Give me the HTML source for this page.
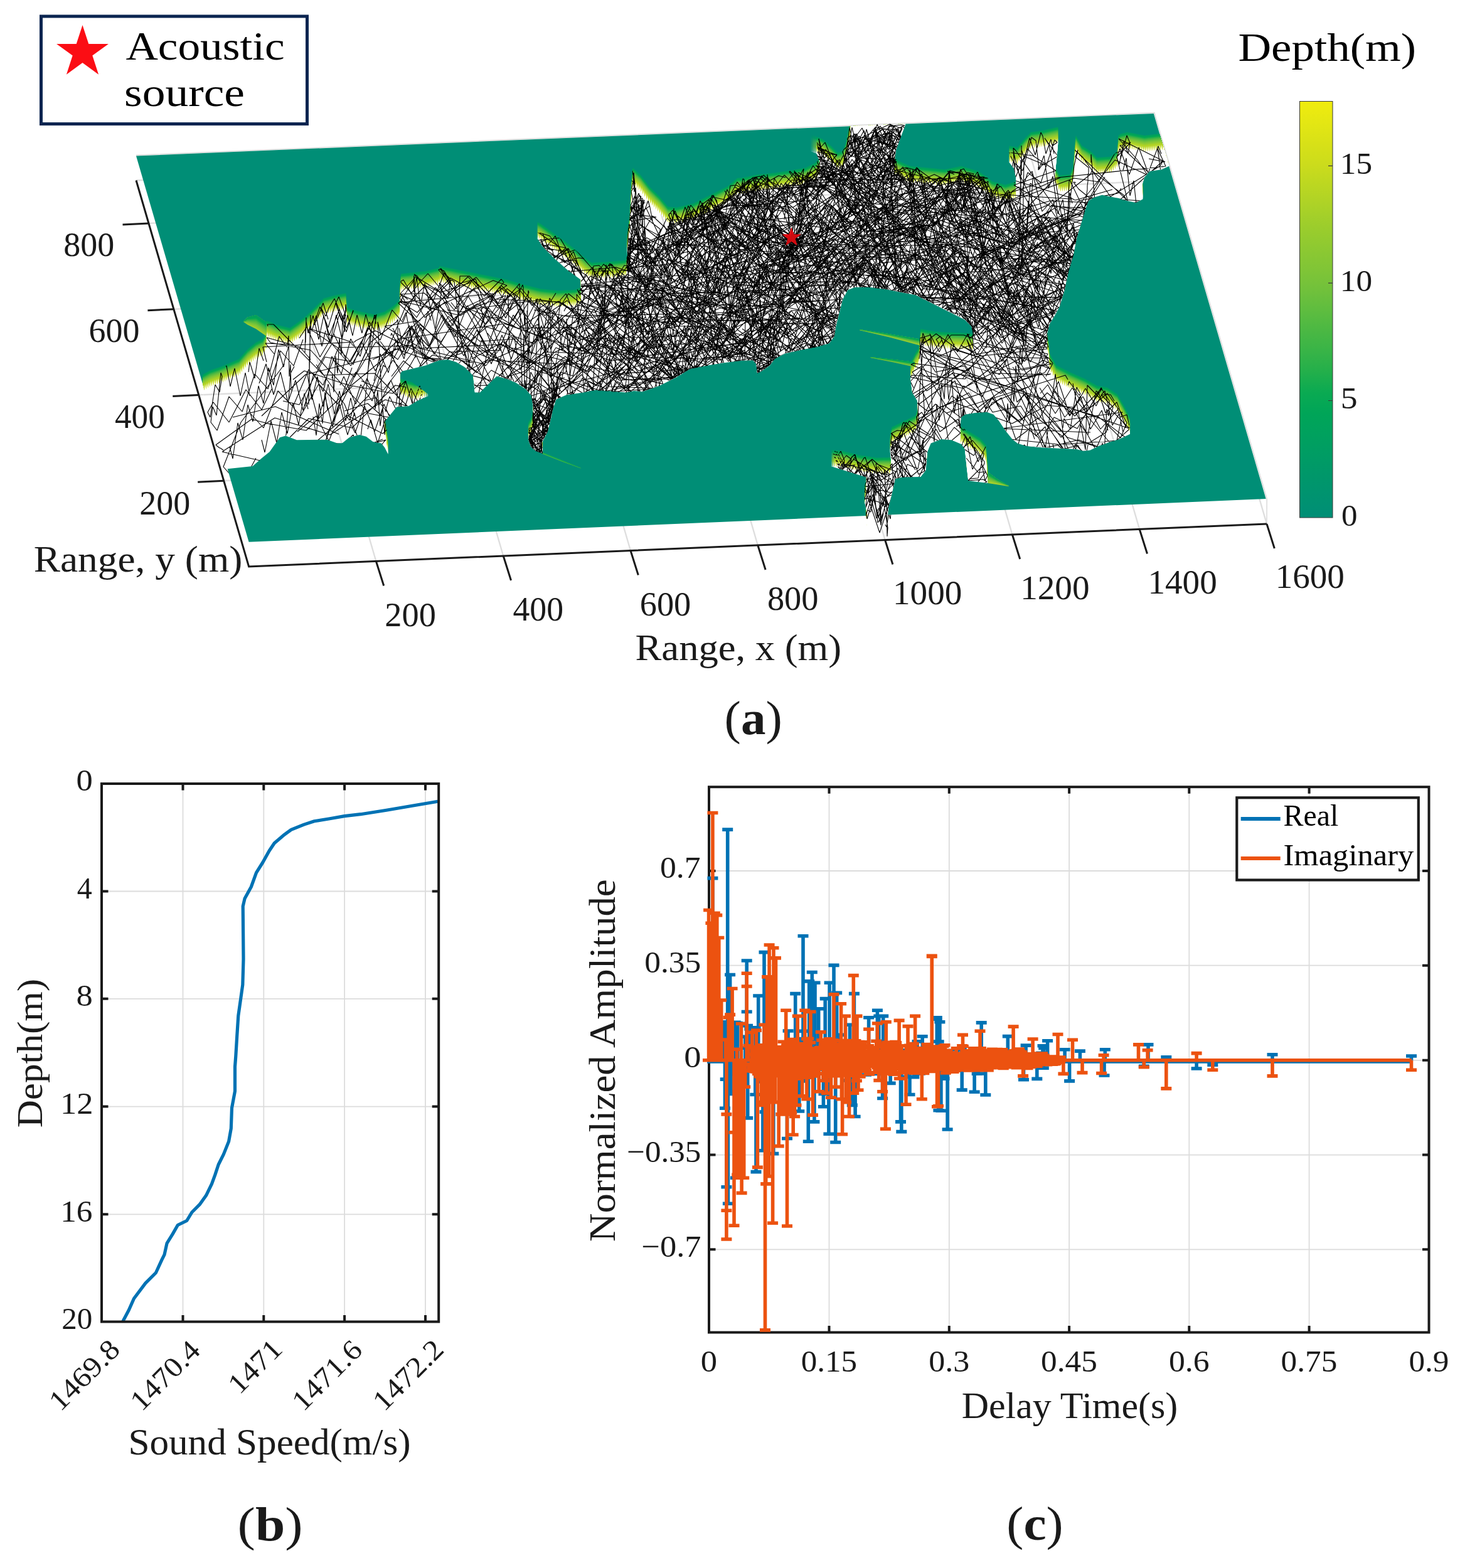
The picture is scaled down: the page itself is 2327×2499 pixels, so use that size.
<!DOCTYPE html>
<html lang="en"><head><meta charset="utf-8"><title>Figure</title>
<style>html,body{margin:0;padding:0;background:#fff}svg{display:block;font-family:"Liberation Serif",serif}</style>
</head><body>
<svg width="2327" height="2499" viewBox="0 0 2327 2499">
<defs>
<path id="grid3" d="M599.4,894.5L419.8,279M802.2,886L622.6,270.5M1005,877.5L825.4,262M1207.8,869L1028.2,253.5M1410.6,860.5L1231,245M1613.4,852L1433.8,236.5M1816.2,843.5L1636.6,228M356.7,766.2L1979.1,698.2M316.8,629.4L1939.2,561.4M276.9,492.7L1899.3,424.7M237,355.9L1859.4,287.9M217,287.5L1839.4,219.5L2019,835"/>
<path id="wf" d="M322.7,622.9 335.1,616.1 354,609.4 381,598 394.5,582.4 408,571.6 418.9,566.2 424.8,555.3 424.8,536.4 440.5,543.2 462.1,548.6 475.6,539.1 489.1,528.3 508,509.4 516.1,501.3 535,495.9 551.2,493.2 553.4,516.2 570.1,521.6 597.1,527 613.3,522.4 626.9,513.5 637.1,504 637.7,475.7 639,462.2 678.2,458.1 699.8,452.7 700,449.8 727,455.2 754,460.6 781,466 808,471.4 835.1,479.6 862.1,486.3 889.1,489 916.1,487.7 926.4,483.6 925.6,445.8 905.3,430.9 883.7,412 864.8,393.1 856.1,379.6 862.1,382.8 878.3,394.5 897.2,408 916.1,422.8 932.3,436.9 943.1,444.4 970.1,443.1 997.1,440.4 1000.4,430.9 999.8,398.5 1003.9,366.1 1005.2,339.1 1006.6,312.1 1008.5,293.2 1021.4,305.3 1035,322.9 1051.2,339.1 1064.7,355.3 1078.2,356.6 1105.2,349.9 1132.2,336.4 1159.2,322.9 1175.4,309.4 1181,309.4 1208,304 1235.1,301.3 1262.1,297.2 1283.7,293.2 1299.9,285.1 1306.6,277 1306.6,258 1301.2,244.5 1291.8,240.5 1310.7,247.2 1324.2,258 1335,268.9 1343.1,266.2 1348.5,252.6 1352.6,231 1355.3,217.5 1356.1,201.1 1443.6,197.3 1435,220.2 1428.2,239.1 1425.5,258 1424.1,277 1437.7,285.1 1451.2,290.5 1478.2,293.2 1505.2,295.9 1532.2,290.5 1559.2,298.6 1575.4,309.4 1581,314.8 1602.6,320.2 1618.9,315.3 1619.4,285.1 1616.2,268.9 1608,258 1621.6,260.8 1635.1,244.5 1643.2,236.4 1662.1,233.7 1686.4,228.3 1685,244.5 1682.3,271.6 1681,290.5 1689.1,305.3 1705.3,304 1710.7,290.5 1712,271.6 1713.4,252.6 1714.7,241.8 1724.2,258 1737.7,266.2 1748.5,277 1770.1,275.6 1780.9,266.2 1782.3,241.8 1786.3,239.1 1797.1,236.4 1824.1,241.8 1848.5,239.1 1856,239.1 1863.3,264.8 1851.2,270.2 1832.3,272.9 1824.1,282.4 1820.1,295.9 1821.4,317.5 1810.6,322.9 1797.1,320.2 1783.6,316.1 1770.1,313.4 1756.6,310.7 1743.1,314.8 1735,320.2 1729.6,333.7 1724.2,352.6 1716.1,379.6 1710.7,406.6 1702.6,433.6 1697.2,460.6 1689.1,487.7 1682.9,500.1 1672.9,516.2 1668.8,532.4 1668.8,554 1671.5,570.2 1672.9,589.1 1683.7,608 1705.3,618.9 1729.6,629.7 1748.5,640.5 1764.7,643.2 1780.9,654 1791.7,672.9 1801.2,691.8 1783.6,699.9 1770.1,703.9 1751.2,710.7 1737.7,717.5 1726.9,718.8 1716.1,716.1 1689.1,714.7 1662.1,713.4 1635.1,710.7 1621.6,706.6 1613.5,699.9 1602.6,686.4 1591.8,670.2 1583.7,660.7 1572.9,656.7 1554,658 1537.8,660.7 1532.4,664.8 1530.3,675.6 1530.3,689.1 1531.1,705.3 1548.6,716.1 1562.1,724.2 1571.6,735 1573.5,759.3 1574.3,770.1 1554,767.4 1543.2,766.1 1540.5,743.1 1537.8,716.1 1532.4,708 1516.2,701.2 1500,699.9 1497.1,701.2 1483.6,706.6 1478.2,720.1 1475.5,749.8 1467.4,760.1 1437.7,760.6 1426.9,763.3 1421.4,787.7 1416,809.3 1414.7,824.9 1414.7,824.8 1409.9,852.9 1405.6,852.9 1384,848.6 1379.7,829.1 1383.6,824.9 1378.2,801.2 1380.9,787.7 1380.9,760.6 1359.3,753.9 1324.2,743.1 1343.1,744.4 1370.1,751.2 1397.1,755.2 1420.1,754.7 1420.1,733.6 1418.7,720.1 1421.4,706.6 1437.7,698.5 1459.3,687.7 1463.3,674.2 1463.3,666.1 1462,639.1 1453.9,625.6 1451.2,604 1459.3,587.8 1464.7,579.7 1467.4,549.9 1489,554 1505.2,555.3 1543,556.7 1551.1,558 1551.1,531 1548.4,520.2 1537.6,509.4 1518.7,500 1497.1,489.2 1478.2,479.7 1459.3,470.3 1437.7,466.2 1410.6,460.8 1383.6,457.6 1362,458.1 1351.2,462.2 1343.1,477 1337.7,498.6 1332.3,520.2 1329.6,536.4 1321.5,547.2 1302.6,552.6 1275.6,558 1251.3,563.5 1235.1,571.6 1227,582.4 1213.5,591.8 1206.7,594.5 1205.3,579.7 1199.9,574.3 1181,574.8 1154,578.3 1127,582.4 1100,587.8 1078.2,601.3 1051.2,614.8 1024.1,624.2 1010.6,622.9 997.1,625.6 970.1,622.9 948.5,621.5 929.6,625.6 902.6,629.6 886.4,636.4 881,652.6 878.3,666.1 872.9,687.7 863.4,706.6 864.8,722.8 854,718.8 845.9,712 841.8,699.9 847.2,690.4 849.9,679.6 849.9,649.9 847.2,631 837.8,620.2 821.6,609.4 808,604 791.8,599.4 775.6,614.8 764.8,625.6 756.7,625.6 754,598.6 740.5,585.1 727,577 713.5,572.9 700,574.3 678.2,582.4 640.4,591.8 637.7,595.9 637.7,629.6 662,636.4 683.6,630.4 664.7,639.1 651.2,647.2 632.3,648.5 613.3,671.5 612,682.3 618.7,724.2 613.3,713.4 607.9,706.6 594.4,703.9 583.6,695.8 572.8,693.1 556.6,697.2 545.8,706.1 537.7,706.6 521.5,700.7 472.9,701.2 455.3,694.5 445.9,697.2 429.7,720.1 416.2,730.9 402.6,743.1 364.8,747.1 361,747.4Z"/>
<path id="wat" d="M322.7,622.9 335.1,616.1 354,609.4 381,598 394.5,582.4 408,571.6 418.9,566.2 424.8,555.3 424.8,536.4 440.5,543.2 462.1,548.6 475.6,539.1 489.1,528.3 508,509.4 516.1,501.3 535,495.9 551.2,493.2 553.4,516.2 570.1,521.6 597.1,527 613.3,522.4 626.9,513.5 637.1,504 637.7,475.7 639,462.2 678.2,458.1 699.8,452.7 700,449.8 727,455.2 754,460.6 781,466 808,471.4 835.1,479.6 862.1,486.3 889.1,489 916.1,487.7 926.4,483.6 925.6,445.8 905.3,430.9 883.7,412 864.8,393.1 856.1,379.6 862.1,382.8 878.3,394.5 897.2,408 916.1,422.8 932.3,436.9 943.1,444.4 970.1,443.1 997.1,440.4 1000.4,430.9 999.8,398.5 1003.9,366.1 1005.2,339.1 1006.6,312.1 1008.5,293.2 1021.4,305.3 1035,322.9 1051.2,339.1 1064.7,355.3 1078.2,356.6 1105.2,349.9 1132.2,336.4 1159.2,322.9 1175.4,309.4 1181,309.4 1208,304 1235.1,301.3 1262.1,297.2 1283.7,293.2 1299.9,285.1 1306.6,277 1306.6,258 1301.2,244.5 1291.8,240.5 1310.7,247.2 1324.2,258 1335,268.9 1343.1,266.2 1348.5,252.6 1352.6,231 1355.3,217.5 1356.1,201.1 1443.6,197.3 1435,220.2 1428.2,239.1 1425.5,258 1424.1,277 1437.7,285.1 1451.2,290.5 1478.2,293.2 1505.2,295.9 1532.2,290.5 1559.2,298.6 1575.4,309.4 1581,314.8 1602.6,320.2 1618.9,315.3 1619.4,285.1 1616.2,268.9 1608,258 1621.6,260.8 1635.1,244.5 1643.2,236.4 1662.1,233.7 1686.4,228.3 1685,244.5 1682.3,271.6 1681,290.5 1689.1,305.3 1705.3,304 1710.7,290.5 1712,271.6 1713.4,252.6 1714.7,241.8 1724.2,258 1737.7,266.2 1748.5,277 1770.1,275.6 1780.9,266.2 1782.3,241.8 1786.3,239.1 1797.1,236.4 1824.1,241.8 1848.5,239.1 1856,239.1 1863.3,264.8 1851.2,270.2 1832.3,272.9 1824.1,282.4 1820.1,295.9 1821.4,317.5 1810.6,322.9 1797.1,320.2 1783.6,316.1 1770.1,313.4 1756.6,310.7 1743.1,314.8 1735,320.2 1729.6,333.7 1724.2,352.6 1716.1,379.6 1710.7,406.6 1702.6,433.6 1697.2,460.6 1689.1,487.7 1682.9,500.1 1672.9,516.2 1668.8,532.4 1668.8,554 1671.5,570.2 1672.9,589.1 1683.7,608 1705.3,618.9 1729.6,629.7 1748.5,640.5 1764.7,643.2 1780.9,654 1791.7,672.9 1801.2,691.8 1783.6,699.9 1770.1,703.9 1751.2,710.7 1737.7,717.5 1726.9,718.8 1716.1,716.1 1689.1,714.7 1662.1,713.4 1635.1,710.7 1621.6,706.6 1613.5,699.9 1602.6,686.4 1591.8,670.2 1583.7,660.7 1572.9,656.7 1554,658 1537.8,660.7 1532.4,664.8 1530.3,675.6 1530.3,689.1 1531.1,705.3 1548.6,716.1 1562.1,724.2 1571.6,735 1573.5,759.3 1574.3,770.1 1554,767.4 1543.2,766.1 1540.5,743.1 1537.8,716.1 1532.4,708 1516.2,701.2 1500,699.9 1497.1,701.2 1483.6,706.6 1478.2,720.1 1475.5,749.8 1467.4,760.1 1437.7,760.6 1426.9,763.3 1421.4,787.7 1416,809.3 1414.7,824.9 1414.7,824.8 1409.9,852.9 1405.6,852.9 1384,848.6 1379.7,829.1 1383.6,824.9 1378.2,801.2 1380.9,787.7 1380.9,760.6 1359.3,753.9 1324.2,743.1 1343.1,744.4 1370.1,751.2 1397.1,755.2 1420.1,754.7 1420.1,733.6 1418.7,720.1 1421.4,706.6 1437.7,698.5 1459.3,687.7 1463.3,674.2 1463.3,666.1 1462,639.1 1453.9,625.6 1451.2,604 1459.3,587.8 1464.7,579.7 1467.4,549.9 1489,554 1505.2,555.3 1543,556.7 1551.1,558 1551.1,531 1548.4,520.2 1537.6,509.4 1518.7,500 1497.1,489.2 1478.2,479.7 1459.3,470.3 1437.7,466.2 1410.6,460.8 1383.6,457.6 1362,458.1 1351.2,462.2 1343.1,477 1337.7,498.6 1332.3,520.2 1329.6,536.4 1321.5,547.2 1302.6,552.6 1275.6,558 1251.3,563.5 1235.1,571.6 1227,582.4 1213.5,591.8 1206.7,594.5 1205.3,579.7 1199.9,574.3 1181,574.8 1154,578.3 1127,582.4 1100,587.8 1078.2,601.3 1051.2,614.8 1024.1,624.2 1010.6,622.9 997.1,625.6 970.1,622.9 948.5,621.5 929.6,625.6 902.6,629.6 886.4,636.4 881,652.6 878.3,666.1 872.9,687.7 863.4,706.6 864.8,722.8 854,718.8 845.9,712 841.8,699.9 847.2,690.4 849.9,679.6 849.9,649.9 847.2,631 837.8,620.2 821.6,609.4 808,604 791.8,599.4 775.6,614.8 764.8,625.6 756.7,625.6 754,598.6 740.5,585.1 727,577 713.5,572.9 700,574.3 678.2,582.4 640.4,591.8 637.7,595.9 637.7,629.6 662,636.4 683.6,630.4 664.7,639.1 651.2,647.2 632.3,648.5 613.3,671.5 612,682.3 618.7,724.2 613.3,713.4 607.9,706.6 594.4,703.9 583.6,695.8 572.8,693.1 556.6,697.2 545.8,706.1 537.7,706.6 521.5,700.7 472.9,701.2 455.3,694.5 445.9,697.2 429.7,720.1 416.2,730.9 402.6,743.1 364.8,747.1 361,747.4Z"/>
<clipPath id="cpar"><path d="M217,248.6 1838.8,180.9 2017.7,795 2017.7,875 396.6,943.8 396.6,863.8Z"/></clipPath>
<clipPath id="cw"><use href="#wat"/></clipPath>
<clipPath id="cray"><path d="M323,608 324,612 323,613 362,747 403,743 430,720 446,697 455,694 473,701 522,701 538,707 546,706 557,697 573,693 584,696 594,704 608,707 613,713 619,724 618,717 619,719 618,697 619,699 614,671 632,649 651,647 665,639 684,630 661,636 684,625 661,631 684,620 661,626 684,615 661,621 684,610 661,616 684,605 662,611 638,605 638,596 640,592 678,582 700,574 714,573 727,577 741,585 754,599 757,626 765,626 792,599 808,604 822,609 838,620 847,631 850,650 850,655 847,665 842,675 843,678 842,680 843,683 842,685 843,688 842,690 843,693 842,700 846,712 854,719 865,723 864,704 873,688 881,653 886,636 903,630 949,622 997,626 1011,623 1024,624 1051,615 1078,601 1100,588 1154,578 1181,575 1200,574 1205,580 1207,595 1213,592 1227,582 1235,572 1251,563 1303,553 1322,547 1330,536 1332,520 1343,477 1351,462 1362,458 1384,458 1411,461 1459,470 1538,509 1548,520 1551,533 1543,532 1489,529 1467,525 1465,555 1451,579 1451,604 1454,626 1462,639 1463,652 1459,663 1421,682 1419,695 1420,730 1397,730 1370,726 1343,719 1324,718 1352,727 1343,724 1324,723 1352,732 1343,729 1324,728 1352,737 1343,734 1324,733 1352,742 1343,739 1324,738 1352,747 1343,744 1324,743 1381,761 1378,776 1378,801 1381,813 1380,814 1380,823 1415,821 1416,809 1427,763 1438,761 1467,760 1475,750 1478,720 1484,707 1500,700 1516,701 1532,708 1538,716 1543,766 1574,770 1574,745 1572,710 1562,699 1531,680 1531,673 1532,665 1538,661 1554,658 1573,657 1584,661 1613,700 1622,707 1635,711 1662,713 1716,716 1727,719 1738,717 1751,711 1784,700 1801,692 1799,688 1801,687 1799,683 1801,682 1799,678 1801,677 1799,673 1801,672 1799,668 1801,667 1781,629 1765,618 1749,615 1730,605 1684,583 1673,564 1669,531 1673,516 1689,488 1697,461 1703,434 1711,407 1716,380 1730,334 1735,320 1743,315 1757,311 1811,323 1821,317 1821,293 1824,282 1832,273 1851,270 1863,265 1862,260 1849,214 1824,217 1797,211 1786,214 1782,217 1781,241 1770,251 1749,252 1738,241 1724,233 1715,217 1711,265 1705,279 1689,280 1683,269 1686,228 1686,203 1662,209 1643,211 1622,236 1608,233 1612,239 1608,238 1612,244 1608,243 1612,249 1608,248 1612,254 1608,253 1612,259 1608,258 1616,269 1619,283 1619,290 1603,295 1581,290 1575,284 1559,274 1532,265 1505,271 1451,265 1438,260 1426,253 1428,239 1444,197 1354,201 1349,228 1343,241 1335,244 1324,233 1311,222 1292,215 1301,220 1303,225 1292,220 1301,225 1303,230 1292,225 1301,230 1303,235 1292,230 1301,235 1303,240 1292,235 1301,240 1303,245 1292,240 1301,245 1305,254 1300,260 1284,268 1235,276 1208,279 1181,284 1175,284 1159,298 1105,325 1078,332 1065,330 1057,321 1067,336 1063,349 1015,301 1011,271 1008,268 1004,341 1000,374 1000,407 997,415 943,419 897,383 856,355 861,362 856,360 861,367 856,365 861,372 856,370 861,377 856,375 861,382 856,380 865,393 884,412 905,431 926,446 926,459 916,463 889,464 862,461 808,446 700,425 700,428 678,433 639,437 637,479 627,488 613,497 597,502 570,497 553,491 551,468 535,471 516,476 489,503 462,524 440,518 425,511 425,530 419,541 408,547 395,557 381,573 335,591 323,598 324,602 323,603 324,607ZM1531,695 1531,692 1536,698ZM1531,682 1532,683 1536,688 1531,685ZM1531,687 1536,693 1531,690ZM1531,697 1532,698 1536,703 1531,700ZM1531,702 1536,708 1531,705Z"/><path d="M150,150H2100V960H150ZM217,248.6 1838.8,180.9 2017.7,795 396.6,863.8Z" clip-rule="evenodd"/></clipPath>
<pattern id="t9" width="3.0" height="8" patternUnits="userSpaceOnUse"><rect width="3.0" height="8" fill="#fff"/><rect x="0.00" width="3.00" height="8" fill="#b3d425"/></pattern>
<pattern id="t8" width="3.0" height="8" patternUnits="userSpaceOnUse"><rect width="3.0" height="8" fill="#fff"/><rect x="0.16" width="2.67" height="8" fill="#b8d524"/></pattern>
<pattern id="t7" width="3.0" height="8" patternUnits="userSpaceOnUse"><rect width="3.0" height="8" fill="#fff"/><rect x="0.33" width="2.35" height="8" fill="#bcd722"/></pattern>
<pattern id="t6" width="3.0" height="8" patternUnits="userSpaceOnUse"><rect width="3.0" height="8" fill="#fff"/><rect x="0.49" width="2.03" height="8" fill="#c0d821"/></pattern>
<pattern id="t5" width="3.0" height="8" patternUnits="userSpaceOnUse"><rect width="3.0" height="8" fill="#fff"/><rect x="0.64" width="1.71" height="8" fill="#c4d91f"/></pattern>
<pattern id="t4" width="3.0" height="8" patternUnits="userSpaceOnUse"><rect width="3.0" height="8" fill="#fff"/><rect x="0.80" width="1.41" height="8" fill="#c9db1e"/></pattern>
<pattern id="t3" width="3.0" height="8" patternUnits="userSpaceOnUse"><rect width="3.0" height="8" fill="#fff"/><rect x="0.95" width="1.11" height="8" fill="#cddc1c"/></pattern>
<pattern id="t2" width="3.0" height="8" patternUnits="userSpaceOnUse"><rect width="3.0" height="8" fill="#fff"/><rect x="1.09" width="0.82" height="8" fill="#d0dd1b"/></pattern>
<pattern id="t1" width="3.0" height="8" patternUnits="userSpaceOnUse"><rect width="3.0" height="8" fill="#fff"/><rect x="1.23" width="0.54" height="8" fill="#d3df1a"/></pattern>
<path id="star" d="M1261.5,362.5 1265.3,373.3 1276.7,373.6 1267.6,380.5 1270.9,391.4 1261.5,384.9 1252.1,391.4 1255.4,380.5 1246.3,373.6 1257.7,373.3Z"/>
<linearGradient id="cb" x1="0" y1="1" x2="0" y2="0"><stop offset="0.00" stop-color="#008e76"/><stop offset="0.05" stop-color="#009370"/><stop offset="0.10" stop-color="#00976a"/><stop offset="0.15" stop-color="#009c64"/><stop offset="0.20" stop-color="#00a15e"/><stop offset="0.25" stop-color="#00a558"/><stop offset="0.30" stop-color="#0aaa52"/><stop offset="0.35" stop-color="#23af4b"/><stop offset="0.40" stop-color="#38b447"/><stop offset="0.45" stop-color="#4bb843"/><stop offset="0.50" stop-color="#5fbd3f"/><stop offset="0.55" stop-color="#72c13b"/><stop offset="0.60" stop-color="#81c536"/><stop offset="0.65" stop-color="#8ec931"/><stop offset="0.70" stop-color="#9ccd2c"/><stop offset="0.75" stop-color="#acd227"/><stop offset="0.80" stop-color="#bcd721"/><stop offset="0.85" stop-color="#ccdc1c"/><stop offset="0.90" stop-color="#d8e117"/><stop offset="0.95" stop-color="#e4e713"/><stop offset="1.00" stop-color="#f0ec0e"/></linearGradient>
</defs>
<rect width="2327" height="2499" fill="#fff"/>
<g fill="#1a1a1a">
<use href="#grid3" fill="none" stroke="#dedede" stroke-width="2.4"/>
<path d="M217.0,247.4L1839.8,179.70000000000002L2019.2,795.0L2019.0,835.0" fill="none" stroke="#dcdcdc" stroke-width="1.6"/>
<path d="M217,248.6 1838.8,180.9 2017.7,795 396.6,863.8Z" fill="#008e76"/>
<g clip-path="url(#cpar)"><use href="#wf" y="-26" fill="#009d63"/><use href="#wf" y="-25" fill="#00a15d"/><use href="#wf" y="-24" fill="#00a558"/><use href="#wf" y="-23" fill="#03a953"/><use href="#wf" y="-22" fill="#17ad4f"/><use href="#wf" y="-21" fill="#2bb14a"/><use href="#wf" y="-20" fill="#3eb446"/><use href="#wf" y="-19" fill="#4eb842"/><use href="#wf" y="-18" fill="#5bbb3f"/><use href="#wf" y="-17" fill="#67bf3d"/><use href="#wf" y="-16" fill="#74c23a"/><use href="#wf" y="-15" fill="#80c537"/><use href="#wf" y="-14" fill="#89c834"/><use href="#wf" y="-13" fill="#93ca30"/><use href="#wf" y="-12" fill="#9ccd2d"/><use href="#wf" y="-11" fill="#a7d029"/><use href="#wf" y="-10" fill="#b3d425"/><use href="#wf" y="-9" fill="url(#t9)"/><use href="#wf" y="-8" fill="url(#t8)"/><use href="#wf" y="-7" fill="url(#t7)"/><use href="#wf" y="-6" fill="url(#t6)"/><use href="#wf" y="-5" fill="url(#t5)"/><use href="#wf" y="-4" fill="url(#t4)"/><use href="#wf" y="-3" fill="url(#t3)"/><use href="#wf" y="-2" fill="url(#t2)"/><use href="#wf" y="-1" fill="url(#t1)"/></g>
<path d="M1370.1,525.1 1418.7,532.4 1466,540.5 1466,550.5 1418.7,537.8 1370.1,526.2Z" fill="#9bcd2e"/><path d="M1370.1,525.1 1418.7,532.4 1466,540.5 1466,548.8 1418.7,536.9 1370.1,526Z" fill="#82c636"/><path d="M1370.1,525.1 1418.7,532.4 1466,540.5 1466,547.2 1418.7,536 1370.1,525.8Z" fill="#63be3e"/><path d="M1370.1,525.1 1418.7,532.4 1466,540.5 1466,545.5 1418.7,535.1 1370.1,525.6Z" fill="#41b545"/><path d="M1370.1,525.1 1418.7,532.4 1466,540.5 1466,543.8 1418.7,534.2 1370.1,525.5Z" fill="#11ab50"/><path d="M1370.1,525.1 1418.7,532.4 1466,540.5 1466,542.2 1418.7,533.3 1370.1,525.3Z" fill="#00a25c"/><path d="M1387.7,568.9 1424.1,572.9 1457.9,577 1457.9,585.1 1424.1,577.5 1387.7,570.2Z" fill="#81c536"/><path d="M1387.7,568.9 1424.1,572.9 1457.9,577 1457.9,583.7 1424.1,576.7 1387.7,570Z" fill="#68bf3c"/><path d="M1387.7,568.9 1424.1,572.9 1457.9,577 1457.9,582.4 1424.1,576 1387.7,569.8Z" fill="#4db842"/><path d="M1387.7,568.9 1424.1,572.9 1457.9,577 1457.9,581 1424.1,575.2 1387.7,569.5Z" fill="#28b04b"/><path d="M1387.7,568.9 1424.1,572.9 1457.9,577 1457.9,579.7 1424.1,574.4 1387.7,569.3Z" fill="#00a854"/><path d="M1387.7,568.9 1424.1,572.9 1457.9,577 1457.9,578.3 1424.1,573.7 1387.7,569.1Z" fill="#00a15e"/><path d="M864.8,720.9 894.5,733.1 925.6,745.8 925.6,746.6 894.5,735.3 864.8,723.4Z" fill="#50b942"/><path d="M864.8,720.9 894.5,733.1 925.6,745.8 925.6,746.3 894.5,734.5 864.8,722.6Z" fill="#1eae4d"/><path d="M864.8,720.9 894.5,733.1 925.6,745.8 925.6,746.1 894.5,733.8 864.8,721.7Z" fill="#00a35a"/><path d="M1574.6,752.6 1589.1,763.4 1608,774.2 1608,775.3 1589.1,772.3 1574.6,770.1Z" fill="#aad129"/><path d="M1574.6,752.6 1589.1,763.4 1608,774.2 1608,775.1 1589.1,770.8 1574.6,767.2Z" fill="#8dc932"/><path d="M1574.6,752.6 1589.1,763.4 1608,774.2 1608,774.9 1589.1,769.3 1574.6,764.3Z" fill="#6fc03b"/><path d="M1574.6,752.6 1589.1,763.4 1608,774.2 1608,774.7 1589.1,767.8 1574.6,761.3Z" fill="#4bb743"/><path d="M1574.6,752.6 1589.1,763.4 1608,774.2 1608,774.5 1589.1,766.3 1574.6,758.4Z" fill="#19ad4e"/><path d="M1574.6,752.6 1589.1,763.4 1608,774.2 1608,774.4 1589.1,764.9 1574.6,755.5Z" fill="#00a35b"/><path d="M387.8,512.7 394.5,505.8 408,502.3 424.8,513.9 424.8,535.9 408,524.3 394.5,517.5 387.8,512.7Z" fill="#a0ce2c"/><path d="M387.8,512.7 394.5,505.8 408,502.3 424.8,513.9 424.8,533.1 408,521.5 394.5,516.1 387.8,512.7Z" fill="#8dc932"/><path d="M387.8,512.7 394.5,505.8 408,502.3 424.8,513.9 424.8,530.4 408,518.8 394.5,514.6 387.8,512.7Z" fill="#79c339"/><path d="M387.8,512.7 394.5,505.8 408,502.3 424.8,513.9 424.8,527.6 408,516 394.5,513.1 387.8,512.7Z" fill="#5fbd3e"/><path d="M387.8,512.7 394.5,505.8 408,502.3 424.8,513.9 424.8,524.9 408,513.3 394.5,511.7 387.8,512.7Z" fill="#46b644"/><path d="M387.8,512.7 394.5,505.8 408,502.3 424.8,513.9 424.8,522.1 408,510.5 394.5,510.2 387.8,512.7Z" fill="#20ae4d"/><path d="M387.8,512.7 394.5,505.8 408,502.3 424.8,513.9 424.8,519.4 408,507.8 394.5,508.7 387.8,512.7Z" fill="#00a755"/><path d="M387.8,512.7 394.5,505.8 408,502.3 424.8,513.9 424.8,516.6 408,505 394.5,507.3 387.8,512.7Z" fill="#00a05e"/>
<path d="M637.7,595.3 685.7,630.4 689,622.9 689,579.7 639,589.1Z" fill="#008e76"/>
<use href="#wat" fill="#fff"/>
<g clip-path="url(#cw)"><use href="#grid3" fill="none" stroke="#dedede" stroke-width="2.4"/></g>
<use href="#star" fill="#fb0d14"/>
<g clip-path="url(#cray)"><path d="M1262,388l-54-3-144 78-139-7 3-1 148 39 148-45 87 23M1262,392l9-12 18 56 16-29 18 57 18-28 15 48 11-19 5-10 17 27 16-38 21 34 21-50 22 35 21-50 22 34 21-49 21 34 22-50 21 35 22-50 21 34 21-49 22 34 13-32M1262,385l-8-9-25 56-25-28-25 55-25-29-24 56-26-28-24 55-25-28-24 55-26-28-25 55-24-28-25 55-24-28-26 56-24-29-22 47-11-14 11-12 26 48 27-33 7 15-15 18-23-47-23 26-20-44-23 27-22-45-25 29-8-17M1262,411l-95-57-83 18-18-13 60-18 102 53 102-32 103 52 102-31 102 52 74-23-27-17-100 19-100-64-102 19-91-59M1262,393l-8 11-15-61-16 23-15-61-12 19-6-25 10-13 21 48 23-32 23 51 22-34 23 51 23-34 23 51 22-34 23 51 23-34 23 51 22-34 23 50 23-33 23 50 22-33 23 50 23-33 23 50 11-17M1262,408l7 8 42-31 44 53 42-31 43 53 42-31 44 53 42-31 43 53 42-31 32 39 4-4 2-54 3-2 3-77 4-2 3-86 1 0 26 54 15-7-22-13-41 59-40-25-42 60-40-25-4 6M1262,408l23-2 154-97 106-10 4-4-82 30-137 133-135 48-48 47M1262,397l-60-14-64-51 67-49-12 4-136 126-58 18 90-41 159 13 157-71 158 13 10-5 1-1 2-1 1-1 13-8 1 0 3-2 2-1 94-43-12 5-98 103M1262,408l23-42 25 36 25-48 26 36 25-48 27 36 25-48 26 36 25-48 26 35 25-48 25 36 25-48 3 4-17 24 0-1M1262,397l-6-18-9 52-9-31-8 52-9-31-9 52-8-32-9 53-9-32-9 53-9-31-8 52-9-31-9 52-9-31-8 52-9-31-9 52-8-32-8 47-8-27-7 40-7-24-3 24-3 7-9-30-12 36-2-6M1262,385l-5-41-12-35 0-3 0-2 0-2 60-26 92 43 92-41 68 32 11-4-16-17-36 1-81 85-83 2-81 85-81 1-81 85-81 2-83 85-45 0M1262,386l-8-7-19 62-20-21-20 62-21-21-20 62-19-22-20 62-20-22-21 63-19-22-19 60-19-21-2 6 12 16M1262,412l-2 5-26 17-26 102-26 17-9 38-36 5-56-76-56 9-56-75-15 2M1262,397l-96-37-5-4-1-1-1-2-2-2-3-5-2-2-2-3-1-2-3-3-1-2-1-2 109 105 77 112-27-121-21-136-29 117M1262,386l-53-22-36-55-35 25-65 129-65 44-65 129-24 17-25-14M1262,394l152-150 17-12-40-25 39 41-220 146-150 61M1262,408l-31-32-36 46-34-38-35 47-36-38-35 46-35-37-21 28 1 2 24-33 34 35 36-49 34 35 35-49 34 35 36-49 34 35 35-50 34 35 13-18M1262,392l2 8 5-69 5 15 5-67 2 6 9 10 17-31 26 35 25-45 27 37 26-47 17 24 0-2-17-27-26 38-28-46-9 16 3 26 7-13 8 68 8-16 9 67 8-16 8 67 4-9M1262,395l15 21 31-39 31 46 32-39 31 46 31-39 31 46 33-39 31 46 31-39 31 45 32-38 31 46 31-39 22 29 0-3-17-16-29 55-29-30-29 55-29-29-29 54-20-23 7-10 31 39 32-45 31 39 31-45 17 20M1262,385l9 9 13-69 14 14 13-69 11 13 5-26-12-30-8 9 7 16 4-4-16-21 14 60 14-14 16 68 16-16 15 68 16-16 16 68 15-16 15 61 9-11-8-17-23 23-23-54-25 24-26-59-25 25-25-59-25 24-24-58-26 25-9-22M1262,406l-74 23-269 25-14-58-25 16 37-14 3 3 169 191M1262,374l21 81 23 0 20 74 8 0-25-18-47 47-48-37-47 48-49-37-48 47-47-37-48 48-47-37-49 47-48-37-47 48-48-37-11 12 20 1 26-82 26 2 12-37 1 4 2 90 2 6 1 62 6-7M1262,395l-47 39-83 154-30 24-1 1-62-92-87-53-2-4-1-2-2-5-1-2-3-5-2-2-6-9-72-45 11-4 28 5-28 25-2-25 0-1 0-2 0-1-15 0M1262,411l-1 5-9-11-9 74-9-11-8 72-9-11-8 72-5-7 11-24 24 22 23-53 27 25 28-60 19 16 4-10-9-9M1262,405l24-20 103-165 18-14 26 34-34-15 0-1 35 12-59-17-24 6-13 74M1262,376l-51-27-19-38-1-2 0-1-21-4 29 1 79 86 79 3 79 86 78 2 79 87 79 2 6 8-11 21M1262,412l-3-27-2 56-3-29-2 56-3-29-2 56-3-28-2 54-3-28-2 55-3-28-2 55-3-28-2 51-2-26-2 38-1-10-5-18-9 25-8-34-9 27-9-36-11 35-12-47-13 35-8-34M1262,407l21-30 24 48 24-35 24 48 24-36 24 48 25-36 24 49 24-36 24 48 24-36 24 48 24-36 24 48 24-36 17 34M1262,409l-24-46-26 32-27-52-25 32-27-53-12 18-4 6-16-19-19 42-19-22-25 55-24-30-15 33 1 3 16-18 23 57 24-27 7 19M1262,378l0-3 5 57 5-26 5 57 5-26 4 57 5-27 5 58 5-27 5 57 4-26 4 45 2-14-3-16-10 30-11-54-8 24M1262,380l20 17 63 102-57 13-155-49-156 35-51-16-1-1 0-1 74 35 89 105 2-1 1 0 0-1M1262,392l-16 27-29-33-31 52-29-33-30 52-29-33-29 51-30-32-29 51-31-32-29 51-28-33-31 52-29-33-29 51-30-32-29 51-30-32-29 51-29-33-31 52-29-33-30 52-29-33-29 51-30-32-29 51-12-14M1262,382l-4-2-4-86-2 0 11 16 30-18 39 59 41-24 39 60 41-24 40 59 41-23 39 59 40-24 41 60 39-25 0 1-34 70-32-14-34 71-15-7M1262,411l26-3 398-125 172-18-13-28 8 59-68-64 17-5-22 23 18 73M1262,375l57 66 60-13 51 61 52-11 43 50 44-8 60 70 47-10-14-6-67 53-66-31-64 48-13-9 26 20 10-4M1262,412l21-54 22 26 21-56 22 27 22-57 21 27 22-57 15 19 3-9-15-21-26 44-27-40-25 44-27-40-18 31-8-12 11-20 23 32 25-48 25 33 24-50 24 32 18-39-3-11-10 14-2-6 2-9 1 53 2-12 2 68 3-16 2 69 2-16 2 68 2-14M1262,403l-14 28-48 18-49 102-48 18-27 57 6-1 40-55 63-2 64-87 63-2 63-86 63-2 64-87 45-2 3-4-47-11-73 66-75-17-73 66-1-1M1262,399l-38 19-57 111-57 28-38 73 46-58 74-9 74-93 74-9 74-93 74-9 64-82-10-2-87 68-85-17-87 68-86-16-86 68-26-5M1262,376l-18-12-115-22-2-2 51 82 65 169 1 1 1 0 1 0-58-23-156-146-32-13 66 165 28 43 0-1-55-22-89-84M1262,383l11 22 15-52 14 31 14-53 16 31 14-53 15 32 14-53 16 31 14-53 13 25 9-38-1-4-18 36-17-47-18 36-18-47-7 17 1 13 3-16 4 60 4-25 4 61 4-25 4 59 4-23 4 59 4-24 5 60 4-24 4 59 4-23 1 15 6 15 10-46 10 29 0-1M1262,394l13-33 13-74 48 15 92 112 91 27 91 111 62 19-37-21-81 15-2-1-1-2-20-12 36 19 65 103M1262,385l7-10 18 48 20-34 19 48 18-35 20 49 19-35 20 49 19-35 20 49 18-35 20 49 19-35 20 49 18-35 19 49 20-35 19 49 17-32M1262,399l30-117 118 178 0-1 13-176M1262,412l28 10 398 74-111-19-161-3 322-141 110-68 1-1 2-3 1-2 2-2 0-1-88 80-2 1-1-1-2 0-1 0-1 0-2 1-1 0-1 0-52 7M1262,386l163 8 249-74 147 7 0 12 0 4-108-104 13 12 55 78 26 11-20-1 32-17 1-1 1-2M1262,401l-22 14-70-40-69 44-70-40-32 20 8 37 19 18 23 108 24 23 5 25-50 13-27-29M1262,402l18-23 24 52 25-32 24 51 25-32 24 51 24-32 25 52 24-33 25 52 24-32 24 51 25-32 24 52 10-14M1262,381l92 28 115-48 115 36 115-48 26 8 8-55 0-4 0-2 1-7 0-2 0-6 0-2 1-3 0-2 0-5 0-2-21-17 4-11-6 25-9 78M1262,389l-145-62 17 201 4 54-65-116M1262,411l-95-49-93 28-5-5-1 0-65-35 10-8 33 4-39 6-3-4 21-21-21 5 10-11 13-2-22 81-6 9M1262,380l-17-9-84 40-85-45-68 30-7-6 35 16 53 106 54 23 33 65 2 0 53-37 57 18 34-25-14-28-54-22-54-106-44-18M1262,376l3-3 32 47 32-36 31 48 32-36 32 47 31-36 32 48 32-36 31 47 32-36 32 48 31-37 32 48 22-25-10-11-33 49-31-35-31 48-32-35-31 47-27-31-3-5-5 5 16 25 23-24 18 30M1262,406l17-85 18-18 6-27 25 3 48 88 47 4 48 89 48 4 48 88 48 5 48 89 47 3 44 82 3 0M1262,410l3 15 39 81 13 57-60-32-92-132-69-38-3-5-1-2-28 7 31 22 81 143 67 48-22-9-129 29-37-15M1262,414l-169 202-2 1-4 3-1 1-2 2-2 2-2 2-43 18-15 5-1 0 353-239 123-93 2-3 1-1 2-2 0-2 2-2 1-2 1-1 3-4 3-3 1-2 1-1-137 188-2 0-1 0-1 0-2 1 0-1-43-202 0-2-1-3 0-2 0-1 0-2-1-3 0-1-1-3 0-2 0-1-18 23M1262,382l25-12 109 32 109-53 109 32 109-52 8 3-100 59-107-21-108 64-106-20-108 64-57-11M1262,375l39-55 0-3 1-1 1-5 0-2 18-60-18-15 22 10 79 115 81 32 81 116 80 33 16 22M1262,392l12-29 25 25 26-61 25 25 25-60 25 24 26-60 2 3 12 58 15-13 15 69 15-15 15 68 15-15 15 69 15-15 15 69 15-15 15 69 15-16 16 69 15-15 15 69 15-15 13 59 5-7-6-24M1262,388l-22 22-35-49-34 36-35-49-34 33-30-46-6 7 0 2 22 34 30-28 34 51 33-33 34 52 34-32 33 51 34-33 35 52 32-33 35 51 34-32 32 51 35-32 34 51 33-33 34 52 34-33 19 31-6 5-24-48-30 24-31-60-30 24-9-19M1262,394l150-79 126-29 48 190 80 239 3-21 13-98 19 144 1 1-82-20 30-125 21-65-37 40M1647,532l17 48 10 8-45-18-91 47-86-36 4-2 85 12 71-61M972,536l-3-4-36 30-36-54-35 30-36-54-36 29-35-53-7 6M1116,388l52-9 105 64 107-20 106 64 47-9M1403,296l38 24 233 67 36 23-136 46M860,577l35 48 36-36 17 23M594,573l54-23 122 30 74-33M1158,484l-28 78-33 43-12-62-31-75M1532,366l57 69 95 31 8 10-109 36-120-44-15 5 98 3 104-73M453,580l-1 5-8-28-8 57-8-28-8 57-8-28-9 57-8-27-8 56-8-27-8 57-5-19M1495,495l-10 11 40-19 71 51 71-33 11 8-1 0M992,580l-40 31-51-43-26 21M1614,585l104 135 14-1 2-10M664,517l-24-47-3 5 27 31 30-48 30 36 29-48 8 8M626,523l22 40 23-41 21 43 24-41 23 43 21-41 16 29M1411,836l2 4 5-29-5-12-10 33-11-38-10 33-3-16 8-21 10 36 11-35 11 36 1-10-9-27-11 35-9-37-11 34-1-5 4-39 4 24 4-43 5 31 1-14M923,591l1 2 14-59 14 26 14-59 13 26 14-59 14 26 14-59 13 26 14-59 14 25 13-58 14 25 14-58 9 18 6-26 2-5 8 62 7-22 8 62 7-21M1406,383l-36 42-103 150-130-18M1331,388l-15 11-17-71-16 14-17-70 0 1 29 44 30-32 32 50 32-35 31 50 32-35 32 49 32-34 33 49 32-34 31 49 32-34 32 49 0-1M1659,262l3 1 24-14-21-29 7 11 21 119 21 35-75 72-74-14-70 67-8-3-1 0-6-2-2 0-2-2 9-73 14-36 14-121 1-1-43 50M1630,420l2 4 36-20 29 51 7-4-25-33-40 28-40-56-41 28-11-16M1560,416l19-39 21 40 21-44 21 40 12-27M1356,331l-9-10-26 55-26-30-26 54-26-30-26 54-26-29-26 54-26-30-28 55-2-5M565,663l-6-29-8 37-10-48-8 37-10-48-8 36-9-48-9 37-8-45M1564,476l32-48 62-13 61-95 63-12 5-8M1580,460l-12 19-25-43-25 41-25-43-24 40-25-43-26 41-25-44-25 41-25-43-4 9M1674,325l-104 45-264 31-57 25M980,514l16-26 29 33 31-51 29 33 30-52 31 33 29-51 31 32 29-51 30 33 14-24M1851,245l-5-12-16 43-15-41-15 43-15-41-5 14 4 11 7-38 7 21 3-17-5-12-10 37 0-5M1381,370l9-109 6-49 24 172 22 98-81-33-203 1-79-32M841,700l3 1 18-43 19 14 3-10 1-4-16-24-23 22-1-5 20-22 24 31 13-15-14-17-30 35-15-21M1376,423l-17 12-43-53-44 32-42-52-44 31-44-53-34 26-17-22 16-8 40 63 19-12M1258,488l15-21 30 39 28-44 21 26 3-7 0-5M1114,473l-12 33-13-48-12 37-14-48-12 37-12-48-6 18M1074,623l6-41 11 15 10-68 11 16 10-69 10 16 11-69 10 16 11-68 10 15 11-69 9 14 5-37-5-6-14 67-15-18-12 53M1710,611l20 106 3-103 67 69-327-113-2-2-3-4-2-2 0-1 3-9 82 50M1459,749l-14-21-24 19-2-5 3-3 3 53 0-2 2-39M823,467l-17 40-20-35-20 50-21-35-20 50-21-35-20 50-19-35-21 49-20-35-1 4M1201,403l-49 26-122-20-33 18 82-7 111-93 106-8 77-64M1134,550l-10-7-35 59-35-27-35 58-35-25-24 40-6-5-17-34-31 19-31-64-31 19-4-10M1494,569l25-11 1-1 70 22 111 118 69 22-51-18-102 25-6-3 1 1 23 5 10-82 14-62M1209,343l26-23 44 44 43-39 45 45 43-40 44 45 43-39 43 44 44-39 44 45 44-40 18 21M560,678l6 12 15-43 16 41 15-44 14 32 12-34 10 31 12-33 2 5-3 15-3-36M1603,591l-137-34 119 38 86 2 1 0 2-1 1 0-103 9-55-11M1107,557l-4 11-12-49-12 35-12-49-11 36-12-48 0 1M1507,457l16 33 56 40 58 125 56 40 14 30 32 14-34-10-76-106-77-22-34-46 42 14 69 100M1185,365l-2-6-7 55-8-29-7 56-8-28-7 56-2-9M1540,602l-2 2-85-6-2 3 85 18 87-65 47 10-29 52-60 26-12 22 3-18M1322,382l40-30 48 49 46-34 48 49 46-35 48 49 46-35 48 50 11-10M1629,436l3-180 0-1 0-4 0-2 34 14M1369,377l-3-10-5 67-6-17-5 67-2-7M1552,439l4 1 52 89 53 5 10 19-48 3-4-5M1008,301l-1-1 2-10 3 7-6 8 11 54 30 233 9 45 0 1-19 6-65-6-1 0M1706,315l-88-27-3-52 4 4 74 108M1382,775l-4 0 96-8-3 9-45-42-2-3-1-2-2-5-1-1-1-1 0-2 20-26-20 13 81-59 165-54 2-3 1-1 2-3 1-1 1-2M357,719l-3 1 69 16 69-69 69 15 69-68 17 3-16 57-5 4-40-35-37 12M1752,714l5-6 0-2 3 15 4-69 3 11 1-24-12-19-23 35-24-37-27 41-25-41M1607,535l1-23 4 18 4-66 4 18 4-66 3 18 4-66 4 18 4-66 4 18 3-55M1072,450l-31-58-35-3-4-9 30 3 46 88 47 4 46 89 13 0M857,507l23 103 19 40-57-38-94 3-5-4-1-1-86-59-118 3-44-30 63 20 7 8M960,628l-40 22-61-39-38 23 4 4 43-14 26 26 9-15 16-108 15-23 12-80 9-1 62 69 63-15 27 31M1075,531l35-9 44-97 44-11 44-97 33-9 7-14 41-30 25 12M1117,521l-7-2-128-82 122 46 66 48M1182,489l8-11 24 52 24-33 24 51 24-33 26 52 17-25M1427,237l-7-15-43 13-72 107-71 22-72 107-72 23-14 21M1545,357l-2 12-5-59-5 27-5-58-3 17 0-4 4-16 8 57 8-26 7 57 8-27 8 57 5-20M408,730l-21 39-1 1-1 0-2 1-1 0-1 1-1 0 0-1-24-27 28-71 66-88 3-6 0-2 2-7 0-1 1-2 0-2 1-4 1-2 1-3 0-2 1-4 1-1-38-2 14 17M928,530l0-1 36-26 24-72 22 1 63 87 62 3 56 77 30 1 7-46 16-34 15-117 16-35 13-94-4 7-7 52M1373,757l-12-15-11 21 2 4 5-38 5-4 16 39M1584,390l121 34 3-2 1 0 2-2 1 0 0-1-136-96-111-33 35 121 55 130M1665,536l-23 41-22-42-23 41-21-42-19 32-15-33-16 28-15-28-14 28-15-29 0 1M1152,334l77-10 28-29 54 2 99 87 100 2 99 86 85 2-11-16-81-31-28-40M1635,565l-7 16-31-17-31 68-30-17-31 68-31-17-30 68-25-14 0-16 1 1 15 31 32-18 10 21-28 23-31-40 6-13 24 12 1-3M1474,751l-11-32-23 12-11-34 12-6 23 65 13-7-3-30-8 5-5-60 8-7 36 55 26-22-10-9-35 47-36-32-27 36-4-5 7-3 9 62 1-3 10-43 17 7 10-49M1290,527l19 16 26-9-34 5-20 34-34 13M1215,311l-15-25-17 25 0 1 9-11 13 66 13-18 14 66 13-18 13 66 13-18 14 66 13-18 13 66 14-18 0 3-15 19M1229,376l-35-62-1-4-27 33-99 52-4 5M1577,432l-38 2-87 60-4 0-86-45-133 14-91-48M991,581l17-21 28 51 28-33 23 41 10-16-7-21-19 20-20-63-19 21-19-64-20 21-18-62-19 19-7-26M425,577l-6-24 146-8 2-2 4-2 10-5 3-1 1-2 3-1 3-1 1-1 3-2 3 0 0-1 105 52-7-44-19-84 0 5M1545,659l12 18 25-44 24 39 26-44 24 40 25-44 24 39 25-44 17 28 10-20 4-4 12 55 11-19 6 30M1558,501l45-35 78-144 57-44 1-3 1-2 0-1 51 39 8 14 21-5-84-5-16-13-1-1-3-4-1-1-2-3-1-1-1-2 4 1M477,539l12-18 21 48 22-37 23 48 21-36 22 47 21-36 23 48 21-37 18 39 16-29 0-2-13 23-12-60-13 22-12-61-6 13M1392,366l1 1 35 58 36-24 36 59 35-25 36 59 6-4M413,611l11-31 12 49 11-36 12 48 12-35 12 48 11-35 13 49 11-36 12 48 11-36 13 49 11-35 3 13M1210,326l-7 1-30 84-31 1-30 85-30 0M1470,484l-2 15-1-4-11-38-19 12-20-74-20 11-20-73-20 10-20-72-17 9-15-59 0 1 12 68 12-6 13 77 13-8 12 76 6-3M1025,474l16-51 9-39 0-2 0-3 1-2 1-7 0-3 0-2-47-36 25 64 57 224 1 0 0 1 1 0 1 0 1 1 0 1 1-1-75 14 20-8-21-29-56-45M1530,631l0-4 3 54 3-30 2 35 0-3-3-31-5 31-4-54-5 30-4-53-5 31-3-40M1148,454l77 17 91 97 2-1 1 0 1 0 1-1 3-1 1 0 3-1-1 1-16-1M483,541l-15 42-21-24-20 61-21-24-20 60-21-24-19 54-10-13 3-25 6 14 7-68 2 6-4 25-7-12-8 52-4-8 9-16 25 32 27-52 25 32 16-33M1632,450l-33-55-42 11-42-71-42 11-43-72-42 12-38-65 6-5 38 21 31-35-6-3-20 26M1221,391l-5-89 192-12M1468,547l15-6 3 139M1601,683l2 15 3-55 3 27 4-56 3 26 3-57 3 27 4-57 3 27 3-57 3 28 3-57 4 27 3-57 3 27 3-57 3 28 2-36M1157,366l-3-9-10 55-10-30-10 54-10-30-10 54-10-30-5 28M427,675l61 11 74-71 64 12 3-3 1-1 59-57 65 12M1471,413l-109-4-123 80-123-4-123 80-124-4-102 66M1213,325l-18 33-23-41-21 40-21-38-16 28-1-4 12-17 20 51 22-32 21 52 20-33 16 42M596,607l10-43 13 30 12-53 13 31 12-53 13 30 13-53 5 15M1589,369l-54 19-403 58-287 101M1693,495l1 1-101 30-133 108-1 0-1 0-2-1-1 0-2 0-2-1 0-2 106-62 112-12-83-111-79-56M1564,444l50 23 61 62 4-4-31-67-43-153-3 5M1016,408l-2-4-12 30-3-11 2-25 3 21 2-43 3 22 3-46 3 23 3-50 3 19 1-25-4-11-12 29-1-9 7-16 11 35 10-27 3 11 4 21M1269,383l-23 38-33 139-16 27M599,516l-1-11-1-4-6 28-8-28-6 30-8-29-7 33-8-33-9 38-9-38-10 43-10-42-8 38-9-38-8 28-3-19 0-6-1 40 0-24-1 41M961,497l3 2 112 18M1773,302l-59 17-3-1-1-1-2-1-3 1-167-11-222 71-24-1M1611,502l-36 26-41-56-39 29-40-56-39 29-39-55-41 28-39-55-41 28-39-55-40 28-39-55-31 20-5-10-9-2-17 81-5-2M1183,524l7 5 77-15 58 50 4-3-9 4-37-18-81 42-80-42-82 43-81-42-81 42-82-42-44 24M1411,250l-5 89-8 144 0 1 0 1 31-11M636,523l7 34 10-35 9 48 2-10M1637,364l-5-3-48 44-49-40-48 44-49-40-50 44-49-39-48 44-4-4M857,476l-16 30-24-30-27 49-27-34-28 50-27-34-27 50-27-34-27 49-21-28M902,514l19 44 26-21 26 63 27-20 26 64 1-2M1245,387l-6-12-35 16-34-68-23 10 0-2-20-8-32 70-32-13-32 70-32-13-9 19M1228,571l24-17 84-44-153-140M1139,427l31 13 114-35 95 40M1596,519l-3 0-29-69-30 13-29-70-30 14-29-70-29 14-30-70-29 14-14-33 21-23 42 41 18-20M1034,528l-4 4-15-61-16 23-15-60-11 16-2-9-3-10-5 66-5-18-5 66 0-4M751,450l-49 16-24-11-31 32-59 143-58 58-7 18 82 6 3-3 1-1 3-4 1-1 2-2-30 9 25-10M969,424l6-3 39 58 37-27 39 58 39-26 39 58 35-24M492,624l0 21 1-54 0 31 0-54 0 30 1-53 0 31 0-54 0 25 1-45 0 17 2 9 7-25 9 49 6-25M1061,487l10 54 17 76 0 1 1 0 0 1 1 1-281-67M1267,483l-16-45-17 37-16-46-15 38-17-46-16 38-17-47-16 38-6-20M1558,485l-7-17-54-185-59 28-194 177-106 50M1221,344l-37-47-20 20 5 4 24-33 29 28 28-37 28 27 27-35 36 36 38-48 22 22M597,630l1 22 4-29 4 56 4-30 3 44 2-22-1-2-12 37-11-37-5 15M1694,708l105-7-49-37-186-57-7-5M1373,327l-23 0-111 62M917,556l-1-3-7 30-6-54-7 30-7-54-1 6M1123,386l-15-24-25 41-25-44-26 41-25-44-6 11 0 27 0-11 0 46 0-11 0 67 0-17 1 67 0-16 0 67 0-16 0 67 0-16 0 7-15 20-9-21M885,496l-92 128-1 0-1 1-1 0-31 21 21-101 26-74-68 26-25-3M944,540l152-5 154 54 2-1 3 0 2 0M1607,556l4 9 11-52 11 31 11-53 11 31 11-53 11 32 11-54 8 23 6-29-4-6-13 44-15-35-14 46-15-37-15 46-14-37-15 46-16-37-14 47-15-38-5 19M1084,515l-30-23-42 51-43-34-41 51-42-34-43 51-42-33-41 50-43-34-37 45-37-30-19 25M1399,759l-25 8-29-27 2 0 1 5 13-13 87 54 16 0-30-64M1282,566l-79 26 21 3-18 3-7-63-28-192 0-1-1-3 0-5 0-1 0-4 0-1-1-2 0-2 0-2 0-2 0-3 0-1 0-1 60 58M771,518l44 111 1 1 1 0 1 1 1 1 3 2 1 1 5 5 55-78 86-41 86-124 75-36 31-46 28 31 42 109M1662,716l4 4-11-23-64-51-50-105 6 17 11 67M1518,666l17 20 23-29 5 6-19 12-22-68-7 6M1652,466l41 28-142 41 9-80 20-154 24 159M800,606l11 12 38-35 38 49 40-35 36 46M1496,314l2-26 47-11 26 14-40 2-2-1 23 35 37 142 38 58 36 141 33 51-11-11-84-9-83-82-19-2M1131,498l17-7 248-18 248-101 80-6-79 53M928,626l-128-77-129 6-58-35 57-9M962,620l-5 25 0 1-1 0 0 1-1 0-1 1 0-1 291-202 20-16M773,522l-11-56-11-4 0-1-33-18-53 55-28-17 13 2 27 88 27 3 0-2-30-2-15-46M875,491l-3 54-9 58-7 126-2 15-4-86-6-58-4-105M1004,537l77-46 110 17 111-67 110 17 111-67 110 17 57-35M935,611l17 18 24-58 23 26 22-58 24 25 23-58 23 26 24-59 23 26 23-58 23 26 1-4M1298,573l2 6-69-42-108 19-108-66-9 2M1501,481l20-64 22 16 21-67 21 15 21-67 16 12 16-51 21 16 22-68 4 4-7 5 0-1-1-1M904,533l50 9 91-68 92 15 90-68 92 16 91-68 82 15M987,444l3 10 1-17 14-21 26 43 26-41 25 43 26-42 26 43 26-41 27 43 26-42 26 43 26-41 27 42 24-41 27 43 23-37M839,626l-33-47-48-134-27 7-123 115-121 30-70 66M1217,570l-263 56 82-6-17-24-100-127 13 170 74-55M894,416l25-1-10 44 56-7 45 36M576,607l35 15 48-62 49 21 48-62 1 1M1724,724l3 0-9-14-46 11-45-74-45 10-45-74-46 10-25-41 26-20 35 25 32-11 51 66 49-18 51 66 34-14M1486,392l83-106-55-14-4 40-2 25M467,605l18-14 74 24 72-59 72 25 73-60 72 25 74-60 43 15M1021,388l-22 7 3 1 124 121 125 38 9 9-14-97-7-90M1162,571l5-13 11-113 12-30 12-113 3-9-11 76-17 28-16 112-17 29-11 70-1 0-2-1-43-38-69 22-30-27M708,572l28-9 92-111 0 1 4 158 2 31-44-75-76-45-40-69 32 24 69 136 17 12 1 1 3 1 4-27 2-23M1399,286l39-81-20-7-65 31 65-17 17 11-26-5-34 28-26-3 55-4 23 19-70 22-5-4-1-1-2-2-1-1-5-4 0-1M1014,466l-6 51-7-23-8 62-7-23-7 61-7-23-8 62-7-23-4 36 2 2 12-27M1325,519l3 0 17-70 20 6 17-68M1246,570l15 12 70-140 105-146 1-5 1-1 0-2-138-24 29 13 232 181 55 23M427,520l-1-3 10 0 80 81 81-3 60 60 4-2 1 0 4-1-52-15-88 56-88-27-81 52-2-1-1-1-3-2-1 0-5-4-1-1 57-41 33 9M949,631l12 17 6-4 17-43 31 7 30-77 31 6 31-77 30 7 31-78 30 7 31-77 17 4M1560,557l-9-7-1-38-3 6-2-78-2 7-2-78-2 7-2-78-2 5 0-14-8-8 9-4 23 69 12-9M856,677l-7-7 6-114 6-73 81 64 154 45-11-9-166-45-74-58-98 13-22 13M1634,436l-3 3-41-28-42 56-41-28-28 37M803,612l-64-17 37-21 136 7 136-76 136 7 137-77 137 8 8-5M1146,414l-7-43-10 20-10-65-3 8 4 37 6-17 7 65 7-19 7 66 6-20 7 66 7-19 7 65 6-18 7 59 4-13 7-13 1 4M1514,585l-48-29 7-19-2 15-8 108-1 3-1 6 56-29 96 35 57-29M1544,407l-11 121-60-226 0-2 0-2 0-2-1-1 0-1 46 14M1180,454l20-19 54-133 19-17 20 94 32 60 15 71-39-17-56-85M1654,552l-80-65-172-56-167-136M1216,506l20-59 46-55 47-140 5-5-31-5 43 66 75 34 76 120 51 23M1134,327l-1-11 6 9 45 148 44 63 13 45-31-45-21-71M1429,332l-21-1-95 78-96-5-94 78-95-6-96 79-39-3M484,711l7 4 62-53 57 29 20-18-31-39-17 4M1532,418l-7 9-13-66-12 18-12-66-13 17-10-59-4-4-18 26-19-31-26 39-26-45-25 34-23-40-19 26-3-6 14-32 8 12 4 17 10-13 1 7M1195,396l-29 88-29 3-29 87-28 3-7 19M1428,441l72-25 172 27 31-12 1-1 3-2 2-1 3-3-34-38-70-143 38 5 37 24-67 23 58 34 3-1 1 1 2-1 2 1 64 4-7-87 0 12 0 1M1282,564l18 11 31-45-6-6-42 41-42-44-42 40-41-43-31 29M1211,588l122-61-21-86-49-137 0-2 0-2M1350,269l-5-18 50 93 57 143-37-135-26-127-6 4M561,586l-42 117 5-17 61-128 1-2 0-1 1-4 0-2 1-2 0-1 1-4 0-2 1-4 0-2 1-2 0-2 1-3 0-1-7 83-11 97-25-62-45-63M996,593l-10 7-17-69-17 15-4-18M1640,479l-16 26-19-54-17 30-19-54-17 30-19-54-18 29-18-53-18 29-18-54-18 30-12-37M715,513l46-29 65 40 64-44 66 40 66-43 65 40 49-33M1289,347l-14 18-112 227-8 9-2 2-1 0-1 0-1 1-1 0-3 2-1 0 125-85 69-16-114-55-25-23M777,531l19 25 22-54 21 29 22-55 16 21 4-13-5-9-11 65-11-20-11 66-9-18M1177,484l5-4 30 49 30-35 31 48 30-35 23 38 7-9-18-20-29 45-31-38-31 46-32-39-31 46-29-39-31 45-32-38-31 46-1-4M1616,502l-107-12-6 5 106 23 86-45-17-29-44-25M1264,504l-65-39-133 3-67-41 27 23M886,467l-22 35-25-27-31 49-30-34-32 49-31-35-31 49-32-34-30 49-31-35-32 50-30-35-24 39M1087,428l92 72 81 16M865,372l7 20 13-16 15 43 14-18 15 42 15-17 20 59 21-24 20 60 21-24 21 59 21-24 7 22M1606,587l12 3 47-9 1 0 2-2 1-1 2-1 0-1-29-54-75-228-9-16 17 16 78 169 37 48-2-16M1617,391l-9-14-74-38-25-42 0-1-31 42-82 28-68 92M1667,372l-36 5-100 97-70 8-15-41-52-59-51-140 1-3 26-22 30 84 25 28M1514,459l-29-42-83-36-84-121-18-8 30 7-26 3-1-3-1-13M1279,539l30-7 16 25-24-1-38-85-37-1-37-84-38-2-24-56 4 5 13 97 13 14 12 97 13 13 4 36 1-10 1-79M1577,297l-94 21-124-46-73 17 69 31 28-5M989,539l-51 54-52-29-51 55-52-29-29 32-2-1-7-67-10-10-11-95-4-3-19 19-38-24-25 27 12 9M1036,328l-33 23 27-19 102 215 34 54 0 1 1 0 1 0 1 0 1 0-87-79-84-106 0-1 41-72 31 29M1589,529l52-55 56 0 2-2 1-1 0-1-52-46-84 9-84-74-83 10-85-75-53 6 0-1 51-1 6 6M1227,316l-26 73-38 155M1585,367l36 40 83 30-13-47-26-47M542,614l6-14 19 44 18-41 19 43 19-40 12 29 12-28 0 2 11 37 4-12 7-19 4 11-6 16-12-23-16 49-18-36-7 24M1650,437l11-24 28 22 28-63 1 2-31 48-34-33-33 51-34-33-33 50-25-25M1495,354l-6 6-31-44-31 39-30-45-31 39-31-45-31 39-31-45-10 15M1613,345l3-3 26 61 26-24 25 61 16-16-9-23-24 22-23-62-24 21-23-63-20 18-20-53-15 14 16-13 20 51 19-19 25 63 23-23 25 63 24-21 3 9M1474,665l-8-126 17-5 31 182 16 4-73-37-55 166-19-57 0-2M1697,454l-1 31-26 16-48-53-50 30-49-53-48 31-49-53-48 31-48-54-49 31-48-53-34 21M989,574l0-3 8-48 7-132 5-34 4-58 1 15 5 131 5 48 5 132 2 20-33-65-55-28-26-54M1659,385l-7 11-29-27-28 57-29-28-29 57-30-27-29 56-28-27-16 32-3 2-20-34-25 26-26-44-30 31-30-53-31 31-30-53-26 27M1538,402l-48-47-30-45 0-1-3-5 0-2-2-3-1-2 0-2-1-2 0-1-86 17M1386,273l100 81 96 28M732,560l4-10 15 38 17-46 15 38 17-46 15 38 16-46 16 39 16-46 15 38 17-46 15 38 15-46 17 38 5-18M1590,503l83 39-202-128-114-42M1638,478l-13-41-20 20-21-66-20 20-21-65-20 19-21-65-1 3M1205,331l49 6 130 99 131 16 129 99 17 1 1-1 2-1 1 0 3-2 1 0 1 0-44-7-123-98M1301,264l63 67 147 73 123 131M1536,473l-76-68-82 10-80-73-82 10-49-45 33-20 63 23 65-40 19 7M1065,534l-83 113-1-1-1 1-1 0-2 0-1 1-1-1-1 0-1 0-1 1-1-1-1 0-1 0-1 1-1 0-1 0 0-1 59-96 94-70 94-155 44-33-7 57M1127,512l-13-19-24 49-24-34-24 49-24-35-24 50-24-35-20 43M913,571l-26-24-151-59-6-7-1-1-13-13-1-1-6-6-2-2-3-3-2-2-2-2 34 87 18 72 28 19-17 22-7-6-1-2 18-5 42-113 32-51M1641,714l-5-1-3-4-15 10 24 11 38-65 37 18 38-65 1 1-43 44-44-37-44 46-44-37-45 46-45-37-28 30-1-1 3-6M1181,587l-5 4-34-43-35 41-34-42-35 41-17-22M1231,502l13 12 27-55 29 29 27-55 18 19M1168,355l-3-15-14 20-9-41-7-8-15 40-15-18-20 55-20-26-22 57-20-27-3 9M1623,481l-16-15-21-102-14-13M1394,289l-18 13-62-37-28 22 2 54 2 6M1499,426l5-7 19 56 17-29 19 56 14-23M1428,453l0 10-1-63-1 22-1-63-1 22-1-62-1 21-1-62-1 17-1-51-1 19 0-56-1 10 3 17 6-11M1470,328l-26-24-37 49-35-35-36 49-37-35-35 49-37-34-36 49-37-35-35 49-37-35-36 49-35-35M951,444l4-17 6 5-12 49-17-13-17 71-17-13-16 71-17-13-15 67-8-7 11-9 20 51 6-7-17-20-14 18 4 3 10-40M1761,282l-36 54-49-9-50 74-49-10-50 74-3-1M1028,491l-105 18-3-1-1-1-68-13M1206,569l-11-51-49-148-1-7 0-2-1-4 0-1 0-2 0-2-1-2 0-2 0-3-1-3-1-6 0-2 73 27 192-11 140 53M1367,282l32-35 24 33 3-5-4-4-6 75-6-9-6 74-7-9-6 76-4-7-4-25-13 10-13-72-11 10M1169,360l13 7 37-63 32 19 30-54-9 83-8-1-9 84-9-2-9 83-8-1-9 83-8-1-3-11-4 1 15 20-9 3-25-52-27 14M1773,725l2 1 12-57 8 11-1 0-14-39-18 17-11-32-4-3-13 70-12-16-12 63-6-9 10-23 25 26 25-58 22 22 10-24-13-23-29 33-28-52-29 33-27-52-12 14M813,599l23-7 116-116 117-32 117-117 81-23 1-1 1 0 2-1 1-2 4-5 82-9 90 46M1534,604l176-243M653,495l21 34 24-47 24 37 24-47 23 37 24-47 20 31 20-39 1 4 2 61 1-18 1 49M1041,403l-12 2-26-60 6-16 15 4-1 29-5 4-3 54M1613,536l34-57 51-22 9-16-44-63-75-21-59-83-17 2-82 93-83 9-82 92-20 2M1646,295l-4-3-5 78-6-6-5 76M891,419l-6 4-4-22-10-12 3 7 26 5 32 74 13 2M1320,509l-19 19-14 40 37-8 7-10 1-1-25 11-24-16-92 21-94-64-94 20-81-56 10-10 68 0 66-65 52 0M1233,374l30-18 132-153 19 3 22 13-4-13-82 39 103 44 7 7M727,573l2-24 4-109 15 0 83 83 82-1 82 83 79-1-4-3-83 5-81-76M869,403l-7-22 22 50 8-37-35-24 19 6 48 59 128 201-43-161M1193,516l121 0 24-15 1-1 3-2 2-2 4-4 1-1 1-1-88 5-143 92-142 9-115 75M1261,449l14 30 19-45 18 38 19-45 18 38 18-45 18 38 19-45 18 38 19-45 0 2M1130,460l-2-7-6 58-7-26-6 59-6-26-6 58-6-26-6 59-5-23M799,558l-82 3-82-78 5-3 94 23 74-48-22-8-96 45-53-23 39-2 89 77 59-4M1115,419l4-12 9 50 9-34 9 50 10-34 9 50 9-34 9 50 9-34 9 49 10-33 9 50 9-35 4 25M631,646l4-28 3-8-3 58-47-9-93-101-64-12-6-8 53 15 17 20M1333,489l-4-5-30 48-30-36-28 48-30-36-28 47-30-36-30 48-28-36-30 48-28-36-30 48-30-36-16 27M634,557l0-12 0-7 0-2 0-7 0-2 0-1 0-2 0-8 0-2 0-5-2 4-42 33-17 37M1047,410l10-12 103-38 52-61-3 45-3 68M766,495l33-40 25 26 4-6-20-15-34 56-35-28-36 57-34-28-35 56-35-28-34 56-35-28M1027,378l-8 19-18-32 2-8 5 17 6-45 6 18 3-19 0-9 2 63 2-21 2 63 2-21 2 63 0-9M1566,742l8 16-4 8-8-41-12 23-11-53-5 12-1 3 2 6 11-20 13 40 12-24M1504,381l-2-2-24 37-23-46-25 37-22-46-25 37-23-46-21 35M934,519l39-16 216-6 81-34M1588,676l-11 5-33-55-37 20-37-63-16 10 23 30 41-28 40 55 41-29 41 56 15-11M1195,354l17 16 30-55 31 29 30-56 31 29 30-55 31 29 30-55 5 6-19 14-17-47 9-8 26 40 9-10 4-27-4-3-25 63-25-20-25 64-17-15M1500,334l65-52 4 0-84 77-86-3-87 80-88-3-27 27M1005,505l50-47 66 21 68-63 66 21 66-62M1148,471l-135-23-88 15 16-23 50 27M1035,395l-25 36-11-13 6-38 10 9 10-68 2 2-18 27-5-8 15-31 3 3-17 20 1 1 17-19 1 0 6 76 5-8 5 77 4-6M1219,588l-3-3-11 9 17 4 22-77 24 6 23-77 23 6 23-77 23 6 24-77 23 6 21-71-2-1-32 71-31-13-31 71-12-6M907,603l3 1 58-62 56 22 57-62 57 22 58-62 57 22 57-61 58 21 10-12M428,590l2 3 15-57 12 17 2-9 1-9 1 65 2-19 1 41M1176,479l225-87 143-3M1410,334l13 13 34 121M844,528l-1 43-2-17-2 69-2-17-1 35 3 4 7-52 9 17 9-66 9 18 9-67 8 14 3-31 9-10 23 55 22-31 23 55 23-30 23 54 18-24M931,614l10-32 22 16 21-68 22 15 21-68 22 15 21-68 22 15 22-68 21 15M1141,527l80-73 173-75 100-92-88-21-20 4M1171,298l64 37 63-27M1640,547l-5 11-13-41-15 43-14-42-6 20M1113,363l6 9 25-34 26 47 27-36 28 47 7-12M903,508l2 51 2-6 2 78 3-6 0 5-24 30-24-26-16 22 20 21 18-24-3-33-7 8-7-78-6 7-7-78-4 4-4 4-24-30-31 34-31-38-35 39-8-10M597,527l-8-14-15 55-15-28-15 56-15-28-14 56-15-28-14 51M1495,332l36-56 14 9 4 53 6 1 3 37M1396,303l-57 78-71 13-71 98-72 14-71 97-71 14-6 9-9-44-8-104M1029,505l-7 7-29-52-28 32-30-53-21 22-12-25 5-5 17 39 16-16 25 60 25-25 25 60 24-25 26 61 25-25 21 50 11-12-12-15-26 37-26-34-7 12M1371,300l-11-8-19 71-18-14-18 71-19-13-18 70-18-13-18 71-18-14-18 70-16-12-3-3-1-2-20 13-20-69-16 12M867,522l-13-45 43 6 61 57M1204,429l135-26 361 12 3-2 1-1 2-2 1-1 2-1 3-3 3-3 1-1 2-1 0-1-133-16-162-60M1517,427l-4 10-19-39-19 45-19-39-19 45-19-39-17 45-19-39-7 18M1206,457l-12-38-19 23-18-61-18 24-19-61-14 18-5-18-1-6M945,627l3-65 3 19 3-65 3 19 3-66 3 19 3-66 1 4-12 22-11-19M1011,562l43-12 112 50 79-23-18-36-68-52-68-136-15-12 60 97 55 29M900,602l-7 1-19 70-20 1-12 46 13 18 9-7-22-38 1 1 21 32-14 3-8-19 25-27 7 6-27 18-5-6M981,483l13 9 94-12 58 45M577,600l9-6 14-93-41 75-41-7-41 76-26-6M1145,552l54-7 72 36-56-7-121-101-100-13-4-4-1-1-1-2-2-1-8-8 83-6 131 75 83-6M1474,387l-9 5-42-58-42 27-41-58-42 27-40-56 1-1 39 38 38-35 45 43 45-41 34 35M828,612l17 8 41-66 40 18 40-65 41 18 40-65 41 18 40-66 40 19 40-66 40 19 3-5M1404,312l31 64 31-19 30 64 31-19 31 65 31-19 32 65 26-17M1231,489l-45 4-204-67-94 9 22-17 1 1-2 0-51-22 26 24 38-10 9 1M1610,422l23 20 48-42 30 27 0-1-22-43-37 13-17-33M1588,438l115 16-83 42M1831,253l26 5-74-37 30 34 16 24-52-24-158 197M865,492l26 35 44-23 45 62 44-23 44 61 44-23 7 9-32 28-42-37-48 41-48-43-15 13M1457,337l9 11 38 132 14 17M1332,250l1-4 1 1-31-11 124 110 135 54M1044,556l-47-53-46 30-47-54-36 24-37-43-36 24-36-42-32 21-28-33 4-2 40 61 41-19 11 18M1507,314l15 23 24-51 16 24 5-14-9-22-14 22-3-7 6-10 12 62 13-21 12 63 12-21 6 35M1415,748l0 2-5 14-13-20-14 42-6-10 10-19 22 37 22-48 23 37 22-47 0-1-3 15-2-49-4 20-3-63M1620,279l-3 4 0 9-1-51 0 4 12 47 17-19 16 64 17-19 16 64 16-20 8 33-7 11-21-27-27 47-27-36-18 34M1587,315l-16 65-18-10-19 75-18-9-19 74-8-5 18-19 39 43 37-40 37 44 39-40 24 29 2-2-25-26-37 42-9-11M933,525l12 12 26-57 26 27 27-57 26 27 26-57 26 27 20-43M1581,382l3-1 113 51 2-1 1-1 2-1 1-1 2-2 1 0 2-2 2-1 3-3-72-4-118 77-18-1M1542,428l-10-79-9 5-10-80-1 2 17 63 20-10 20 75 20-9 20 74 21-9 20 75 20-10 0 1-37 50-22-20M1080,439l71 92 86 46-25-26-120-43-68-71M893,614l12-7 74 34 74-50 48 22 3-3 6-68 10-32 11-116 9-31 1-13 1-2 0-8 0-2 1-6-18 17-29 110-30 27-10 39M979,502l-83 1-85 84-3-1M1616,450l23 17 35 62-57-17-104-116-103-31-103-115-6-2 114 72 34-3M1067,575l4 26 1 4-88-70-91-155 0-1-35 4 15-2-14 6 23 12-23-6M1752,290l-40-6-107 39-107-17-165 60-167-25-152 53-3-2-1-1-2-1-1-1-2-1-1-1-2-2-1 0 0-1 10-11M1208,544l-69-5-81-91-57-5-3-4-18 18M1159,361l-15-29-18 49-16-36-15 43M681,463l-21-26 5 3 74 114 75 31 61 91 2 0 1 0 3 0 18-90 29-59 20-95 22 0M1406,769l-31-28-25 32-11-12 13-10 1 3-9 4-4 8 5 4 24-22 39 49 26-25-10-19-21 13-6-14-13-6-9 29M1006,357l24 53 28-23 28 61 28-24 28 61 28-24 26 60 28-23 28 61 28-24 20 44 4-5 2-41 4 9 3-75 3 9 4-76 1 6M858,705l-16 17 14 10 12-12 6-51 8-4 8-65 12-7 11-89 8-5 2-15 29-25 49 42 44-40M778,491l4-8 1-2 0-1 0-2 1-2 1-4 1-3 0-1-149 14 23-36M1111,475l151 62M1481,351l-1 0-25 58-25-27-25 58-25-26-25 58-24-27-26 58-25-26-25 58-25-27-15 38M1540,730l19 23 2 0 1 0 5-1 1 0 3 0-18 24 20-8-6-4-24 2 25-25 1-3 0-2-16-24 1 9M676,457l-6 30-6-45-4 24-1-16 1-11 2 39M954,500l41-17 53-104 40-16 5-11-30 15-50 108-49 24-49 108-50 24-16 35 30 10 3-3-33-24 16-13 56 16 17-14M862,527l9 0 100 89 81 3-18 0-12 10 37-52 32-112M1538,408l-24 34-37-31-37 53-37-31-33 49-34-29-37 53-36-31-38 53-36-31-37 53-38-31-36 53-37-31-30 44M1538,498l10-18 57-17 58-101 57-17 57-101 14-4M1033,399l-34-2 62 1 97-71 107 3 107-78 58 2-54 16-17-7-1-1 0-1M1271,555l-12 33-110-38-174 25-171-59-165 24M1530,274l1-4 8 17-3 14-7-19-9 55-10-28-10 56-10-28-10 56-9-29-10 56-10-28-10 57-1-6M1418,275l26-8 15 4 97 104 109 33 37 40-74-21-111-116-71-20-3-4-71 12-19 17M1049,559l-7 13-38-18-38 66-38-17-29 52-30-14-20 38 8 16M835,547l1 64 1-1 0 20 26 12 32-67 33 16 33-67 4 2M1488,289l6-2 34 73 34-11 34 73 33-13 34 73 21-8M1173,407l-47-6-52-51 47 0 103 85 101 0 5 5M1642,558l25-21 3 6-18 8-20-73-20 10-20-75-20 11-20-74-8 5M1365,259l-2-46-1 22-1-19-3-13-6 33-1-3 3-30 2 9 2 26 3-22 4 52 3-30 4 55 4-31 4 54 4-31 4 55 3-31 4 54 4-30 4 54 4-30 4 53 4-29 2 25M1162,470l178 38 1-1-290 6M843,699l21 25-22-24 37-18 1-1-2-143-2-58-16 11M1465,572l6-41 2 5 12 28 16-22 13 36M1500,468l-47 5 9-29 66-141 1-4 0-2 1-2 0-2 0-1 50 12 3 58M1544,499l16-26 55-6 55-90 12-1M1252,499l0-3-15-26-15-110-15-26-1-8 0-2 0-4M520,533l7 14 14-46 11 28 11-35 0 2-11 27-11-30-16 41-13-42-11 26 0-3 9-26 13 33 12-39 11 29 6-18-1-9-2 44-3-20-2 57-3-27-3 56-3-27-3 57-2-27-1 5M1425,227l-9 11-18-40 0 1-19 40-18-26-11 26 7 11 21-35 22 36 24-41 15 25-1 1-15-21-23 52-24-31-20 47-22-28-20 47-22-29-21 46-19-28-5 11M1219,514l35 25 55-43 29 22-20 5-45-75-3 1M1649,393l81-38 2-2 1-1-387-31M1398,767l-6-6-2-6-12 41 3-2 38 12-26-29 0-2-1-3-2-9-1-1-2-6 29 35 1-1 1 0 3-1 1 0 4 0 1 0 3-1-50-13 1 1M1065,393l5-21 13 24 14-61 8 13-1 6-6-14-9 64-9-20-10 64-9-22-9 64-9-20-10 64-9-20-9 62-9-20-10 64-9-20 0 4M818,467l18 61 21-11 21 72 21-12 21 72 11-6 7-35 13 7 13-76 14 7 13-76 13 8 13-77 4 2M1427,707l-7-4 54 37 4-2 1 0 3-2-62-45 10-5 12 1M1486,324l20 53 26-17 26 67 25-18 26 67 26-16 25 66 19-13-2-20-5 7M1153,368l-53 97-125 142-10 18-182-57-71-52M1203,361l-17 6-71-38 20-15 82 17 83-61 89 18 40-30-34-25M1633,546l-58-32-29 25-5-8-11-102-11-17-11-102-7-11 0-2-39-28-60 40-34-25M1168,405l-4 3-46-36-46 47-46-37-27 28 1 7 5 1M990,548l13 16 18-59 19 24 19-59 19 23 18-59 19 24 18-59 18 24 19-60 19 25 19-60 18 24 19-60 14 19 8-28 5-5 14 62 15-20 2 10M1663,260l-7 10-5-46-7-5-14 53-15-14-3 15-2 3 8 8 20-47 11 13M1488,463l-18-38-24-131-9-18-33 74-53 34-23 54M1555,337l-48-24-120 22-115-60M860,701l10 8-18 11-10-16 12-43 19 6 20-74 20 6 21-77 21 6 21-78 15 4 4-15-23-19-18 23M964,451l9-30 3 5 6 52 8-21 7 63 8-21 7 63 1-2M1638,363l-17-25-29 39-30-44-29 39-30-44-29 40-30-45-31 40-29-45-29 40-30-45-29 40-30-44-29 39-30-44-27 38-25-38M1425,203l-9-2 21-2 5 1-93 39-39 168-53 161 29-42 28-25M1205,422l-6-12-34 16-33-67-29 13-11-24 2 0 3 84 4-1 3 84 4 0 0 18M1416,322l9 10 48-27 47 56 49-27 48 57 49-27 40 47 10-6-32-34-48 30-31-36M1167,337l12-32 17 15 10-28 0-3 1 74 1-11 1 73 1-10 1 73 1-10 1 56M1607,336l-9-22-16 37-17-47-17 37-17-46-16 37-17-46-16 32-13-41-14 30-9-26M1268,504l-7-9-28 47-27-38-28 47-27-37-26 46-27-37-28 46-27-37-16 28M1718,641l12 15 35-29 16 23 4 15 11-4 5 22-29 26-41-48-40 36-18-24M1486,328l19-14 2-3 1-1 3-4 1-1 1-2 0-1 3-4 1-1 2-2 0-1 87 92M1680,245l-5-23-8 23-5-28-3-6-9 36-9-27-8 33-5-14 0-7 0 47-1-24 0 48 0-24-1 46 0-23 0 55-1-28 0 57 0-28-1 56 0-19M1522,300l-16 45-27-10-11 33M1502,606l-64 120M1526,710l-11 15-23-41-25 37-26-48-2 2-12 46-9-12 0-1 4-3 18 61 7-9M610,648l-1-10-7-125 5 21M1418,756l-28-24-37 30-18-19 14-17 8 6-21 25-1-1 27-32 1 1 16 60 3 0M1297,501l37 25 2-2-78-62-122-13-120-95M1545,763l14-1 9-39-18-21-16 12 18 12 4-6-20-27-1-1 2 0 27 40 3-2M833,581l2-48 4 8 3-78 1 3-25 45-3-3M694,523l10-60 10 13 4-31-10-10-23 59-24-25-19 45-17-20-19 48-20-20-23 59-24-26-24 59-23-25-25 59-24-25-23 59-20-22M869,708l3 5 1-8-6-10-10 49-3-7-5-30-6 13-1-12 12-25 17 24 4-10 2-36 3 12 2-46 1 5M1591,352l-9-18-26 30-25-55-25 30-26-54-20 25-21-44-18 22M1112,488l-5-43-6 27-7-59-6 27-7-58-6 26-6-57-4 17 0-1 11-31 10 25 11-33 10 23 9-31 11 23 10-32 11 24 11-33 13 27 12-38 11 27 11-36 11 22 0-3 8-17M1194,324l-3 10-5-48-2-1-8 48-7-24-10 57-9-28-10 58-9-28 0 2M1460,430l-9-152-1-8 33 135 37 69 7 32M1194,561l1 3 5-71 5 13 5-71 5 13 1-15M1482,696l-16 16-16-33-6-6-17 51-9-10 4-23 5 9 2 20 5-10 7 71 5-10-8-15-25 27-24-50-9 10 5 42 7-12 7 60 7-11 0-2-2 10-1-61 0 2M1458,341l13 38 16-31 17 53 7-14M1183,312l12-4 1-2 22 7 37 94 8 2M1183,425l110 68M1593,362l-31-69-15-11-24 98-33 50-8 33M1461,443l-3-71-4 2-4-82 0 1M1497,553l-2-8-3-4 7-5 24 66 24-17 24 67 25-18 23 66 24-18 6 18M1051,423l3 15 4-56 5 28 4-56 4 21 3-43 0 4 9 21 9-27 11 29 10-31 14 36 13-38 15 41 15-43 14 40 15-43 15 41 15-43 5 14M824,632l1 1 58 22-24-42-76-48-75-133-6-3 19 33M1766,686l-10-32-18 30-16-53-17 31-18-54-8 17M1560,297l15-8-1 6-12 135-4 14M1082,422l9 12 31-39 33 46 31-39 31 45 1-2M1012,462l26 17 27-67 27 18 14-36M1503,413l8-39 10 31 10-52 10 31 10-52 10 31 10-52 10 26 8-44 0 3 5 38 6-22 5 41M1709,324l-4-17-6 59-6-25-6 60-6-25-6 60-6-25-5 59-6-24-6 59-2-8M1527,295l12-18 15 45 17-28 15 44 15-27 18 51 18-32 18 51 18-32 18 52 19-32 8 25-2 4-5-42-9 22-8-60-8 23-8-60-7 19-7-52-9 23 0-5M1331,498l-16 6-26-72-19 10M1113,483l-12-61-15 2-16-84-4 1 15 63 18-3 19 83 19-2 18 82 6-1M1333,493l-5-7-37 20-35-63-2 1M1486,683l3 21 4-60 4 26 4-59 4 25 3-59 4 24 4-53M1788,658l1-1-193 26 136 6 6 0M851,702l-4-12-5 17 2 17 4-21 4 39 2-17 1-10 3 22 2-41 3 24 2-45 3 24 3-46 3 24 2-44 3 28 3-54 4 29 3-55M1534,351l66 26 86-48 45 19-41 15-86-52-40 15M1096,526l8-51 24-83M870,689l2-6 2 3-22 13-4-13 20-20 9 13-22 26-13-16 16-20 20 21-3 6-21-15-13 27 17 21 9-12M1012,426l-17-3-46 75-47-8-3 6M1200,545l-8-10-37 36-35-47-36 37-37-47-12 14M1203,293l1-1 16 19 6-16-12-15-20 35-19-25-12 23 9 14 22-29 17 29M956,463l-20 29-30-24-36 56 0-1M1694,682l2-15 10 17 10-67 6 11-2 2-16-22-2 6M1449,298l1-22 2 1 18 27 29-21 37 56 38-28 38 57 37-29 39 57 3-4M1052,535l7 9 45-27 43 57 45-26 37 49 16-10-9-6M1634,422l-8-10-27 43-27-41-28 43-27-41-28 44-25-41-28 43-27-41M1776,639l-6-10-15 0 19 20-11 40-26 16M880,664l-13 12-11 68-1 1 0-2-12-59-1-1 27-8 17-53M1601,310l6-7 19 54 19-31 19 54 19-31 20 54 15-26-2-4-17 53-17-26-17 56-18-28-17 56-18-27-18 56-17-28-12 39M1399,743l10 13 1-8 2 60 1-12 1 59 0-1 1-13-7-42-11 17-11-67-8 10-1-10-15-20-12 20 9 11 18-30 2-1 19 56 21-23 6 16M371,665l68-17 101 44M1146,573l-120-4-136-88-98-4 0-1M807,546l3 15 9-27 10 56 10-27 0 2M614,585l-3-3-18 57-18-26-18 57-6-9M777,467l6 6 20-23-4-5-27 27-26-31-33 32-31-37-13 14-13 17-18-18 5-3 34 60 33-25 2 4M1428,212l1-5 8 17 0-3-12-20-15 39-12-25M1388,235l-6-18-13 17-4-18 9-12 20 46 19-29 0 1M360,584l1-1 6 33 7-29 9 44 8-37 7 37M799,466l-3-9 25 20 51 90M1063,390l13 26 26-29 26 55 11-13M861,685l7 10-2-2-24-4 31 18-26 1-6-6 32-6 2-9M1521,548l-27 65-27-19-16 39 1 3 18-13 28 65 29-20 3 8-6 4M857,667l-2 4-6-8 9-9 19 38 0-3-17-34-11 12 2 20 7-9 7 48 1-2-16-36-8 9 19 22 12-19-11-26-15 15M1407,807l10-47 0-3-74-18-2 2 0 2 22-2M1192,425l-28 69-28-11-29 72-28-13-7 18M474,688l30-25 29 57 30-27 1 3M1263,339l-90-44-9 1-12 75M1145,333l1 0 54-50 11-2 62 31M1521,278l-11-5 65 11-5 0-308 3-48 53M1114,558l-253 66M1372,227l-2 4-1-8 8-15 14 57 14-29 12 47 1-6M1182,565l133-77M1343,468l2 1 1 6-41 54-45-26-44 58-9-6M1011,291l-4-3M1332,726l-7-6 1 0M1552,653l-12 19-35-26-32 54-31-23-21 36 4 2 24-44 33 22 35-62 11 8M976,444l125 73M1587,334l22-29-2 105M1252,283l-11-3-103 58-14 1 57-16M1429,752l-33-13 3 24 5 74 4-19M1312,375l-9-71 0-2 0-2-1-2 0-2 0-2 0-1 0-3 0-2-1-5 26-3M1054,410l37 31 103 4 75 65M523,509l-8-26-3 8 7 13 5-13 9-15 15 33 3-6-11-30-5 10 9 27 6-12M1236,543l2 5 4 23-37 27 13-110 16-204 14 23 11 30M1208,330l-7-44 12-1 65 59M1422,201l-3-3-12 33-12-26-15 39-15-31-12 33-3-6 10-25 13 27M1811,326l-4-38-6 24-6-60-5 19 0-1M499,664l5 30 5-51 5 32 4-50 4 28M1221,294l0-1 2 23 1-32-1-5 0-1 1 47 2-25 3 54 2-30 2 55 2-30 2 54 0-3M1702,605l-4-7-189 60M1477,348l0 2-4-62-2 18-2-24-7-14-15 33-14-29-20 44-7-18M1042,592l15-55 15 21 17-63 9 12M417,701l5 20 10-50 9 35 8-49 9 34 9-49 9 35 9-50 6 25M1456,618l-5-10 65-74 20 0 82 30M1227,287l-5-4-24 25-3-4 22-25 25 25 25-30 33 30 18-21M1337,512l1 3 0 4 0-39 0 21 1-47 0 25 0-35M1329,432l7 62 7-8-6-12-26 23-12-30M1361,248l12 3 65-27-8-18-24 0-15 12M1337,724l3-5 6 15-7 14-11-24 3-5 14 28 1-5-12-22-3 9 11 19 4-12M1512,348l9-1 10-76 5-2 29 44 30-16 40 61 41-22 36 53 10-8-22-36-37 19-39-66-11 7-23 49-33-11-14 32M469,584l-6 11-7 98-2 3M1383,813l5 3 12-64 9 5 0-1 23-23 26 37M832,553l-18-17-40 47-31-32M1593,329l10 28 16-33 18 52 17-32 18 52 8-19M1413,223l-2-8-8 29-8-41-4 15-3 12-7-24-9 41-9-30 0 2M853,671l-1-8-3 6 16 23 16-31-8-8-18 40-3-6M850,649l2-2 15 38 15-39 0 3-7 21-8-47 0 2M1650,524l-34-37-70 5-71-79-70 6-70-78-18 2M1293,258l1 2M1572,555l11-153 7-51M1046,399l24 53 27-23 20 47M1486,327l-1 1-39-60-40 23-28-43M1293,255l-1 0 2 1M1035,419l-36-14 11 9 49 123 32 24M980,439l-1-1-17-17-32 44-22-23 6-18 13 9-21-37-19 17M1012,294l-2-19-1 6 2 25 1-5-4-29 0 2M675,634l-3 5M420,575l-7-20-7 48-8-26-2 16M1324,416l-12 60-13-18-12 65-6-8M1260,526l-4-11-12 44-13-40-11 44-9-31M1459,400l-1-60 0 24-1-59-1 25-1-60 0 7-7 28-10-24-13 54-13-31-4 15M1492,414l2 3 14-48 14 35 14-48 3 8M1296,368l15 22 22-52 21 32 1-3M1458,439l29 18 35-62 20 14" fill="none" stroke="#000" stroke-width="1.1" stroke-linejoin="bevel"/></g>
<path d="M217.0,287.5L396.6,903.0L2019.0,835.0" fill="none" stroke="#1a1a1a" stroke-width="3" stroke-linejoin="miter"/>
<path d="M599.4,894.5l12.3,39M802.2,886l12.3,39M1005,877.5l12.3,39M1207.8,869l12.3,39M1410.6,860.5l12.3,39M1613.4,852l12.3,39M1816.2,843.5l12.3,39M2019,835l12.3,39M356.7,766.2l-41.5,2M316.8,629.4l-41.5,2M276.9,492.7l-41.5,2M237,355.9l-41.5,2" fill="none" stroke="#1a1a1a" stroke-width="3"/>
<text transform="translate(101.32,408.20) scale(0.9897,1)" font-size="54.5">800</text>
<text transform="translate(141.62,545.30) scale(0.9897,1)" font-size="54.5">600</text>
<text transform="translate(182.92,682.40) scale(0.9772,1)" font-size="54.5">400</text>
<text transform="translate(222.22,819.50) scale(0.9897,1)" font-size="54.5">200</text>
<text transform="translate(613.31,997.80) scale(0.9974,1)" font-size="54.5">200</text>
<text transform="translate(817.52,989.18) scale(0.9848,1)" font-size="54.5">400</text>
<text transform="translate(1019.71,980.56) scale(0.9974,1)" font-size="54.5">600</text>
<text transform="translate(1222.91,971.94) scale(0.9974,1)" font-size="54.5">800</text>
<text transform="translate(1423.04,963.32) scale(1.0118,1)" font-size="54.5">1000</text>
<text transform="translate(1626.24,954.70) scale(1.0118,1)" font-size="54.5">1200</text>
<text transform="translate(1829.44,946.08) scale(1.0118,1)" font-size="54.5">1400</text>
<text transform="translate(2032.64,937.46) scale(1.0118,1)" font-size="54.5">1600</text>
<text transform="translate(53.67,911.30) scale(1.0656,1)" font-size="59.5">Range, y (m)</text>
<text transform="translate(1012.60,1052.00) scale(1.0523,1)" font-size="59.5">Range, x (m)</text>
<text transform="translate(1154.62,1170.40) scale(1.0265,1)" font-size="77">(<tspan font-weight="bold">a</tspan>)</text>
<rect x="65.5" y="26" width="424" height="171.5" fill="#fff" stroke="#0b2550" stroke-width="5"/>
<path d="M131.5,40 141.3,70.1 172.9,70.1 147.3,88.6 157.1,118.7 131.5,100.1 105.9,118.7 115.7,88.6 90.1,70.1 121.7,70.1Z" fill="#fb0d14"/>
<text transform="translate(200.39,95.00) scale(1.1138,1)" font-size="64" fill="#000">Acoustic</text>
<text transform="translate(198.05,169.00) scale(1.1488,1)" font-size="64" fill="#000">source</text>
<use href="#star" fill="#fb0d14" opacity="0.82"/>
<rect x="2071.5" y="161.5" width="52.5" height="663.5" fill="url(#cb)" stroke="#3a3a3a" stroke-width="1"/>
<path d="M2124,264.3h-7M2124,451.2h-7M2124,638.5h-7" stroke="#3a3a3a" stroke-width="1.2" fill="none"/>
<text transform="translate(2135.77,276.60) scale(1.0581,1)" font-size="48.5">15</text>
<text transform="translate(2135.77,463.50) scale(1.0581,1)" font-size="48.5">10</text>
<text transform="translate(2136.68,650.80) scale(1.1053,1)" font-size="48.5">5</text>
<text transform="translate(2137.90,837.80) scale(1.0500,1)" font-size="48.5">0</text>
<text transform="translate(1973.42,97.30) scale(1.1406,1)" font-size="64" fill="#000">Depth(m)</text>
<path d="M291.5,1249.0V2106.5M420.3,1249.0V2106.5M549.1,1249.0V2106.5M678,1249.0V2106.5M162.0,1420.5H699.2M162.0,1591.8H699.2M162.0,1763.6H699.2M162.0,1935.3H699.2" fill="none" stroke="#dcdcdc" stroke-width="1.8"/>
<path d="M698,1277.2 656.9,1284.2 615.9,1291.2 574.8,1297.7 549,1300.6 525.6,1304.7 500.9,1308.8 484.5,1314.1 464,1322.4 451.7,1331.4 437.3,1343.7 429.1,1356 418.8,1374.5 408.5,1390.9 400.3,1413.5 390.1,1432 387.2,1444.3 387.6,1487.4 388,1528.5 386.8,1569.5 383.9,1590.1 379.8,1618.8 377.7,1651.7 375.7,1684.5 374.5,1700 374.5,1739 369.5,1765.7 368.3,1798.5 364.6,1819.1 356.4,1839.6 348.2,1856 342.8,1872.4 337.5,1886.8 328.5,1905.3 318.2,1919.7 305.9,1932 297.7,1945.5 283.3,1952.5 275.1,1966.9 266.1,1981.3 262,1999.7 257.9,2007.9 248.4,2028.5 232,2044.9 213.5,2069.5 205.3,2088 195.9,2105.7" fill="none" stroke="#0072b4" stroke-width="5.2" stroke-linejoin="round"/>
<path d="M291.5,2106.5v-10.5M291.5,1249.0v10.5M420.3,2106.5v-10.5M420.3,1249.0v10.5M549.1,2106.5v-10.5M549.1,1249.0v10.5M678,2106.5v-10.5M678,1249.0v10.5M162.0,1420.5h10.5M699.2,1420.5h-10.5M162.0,1591.8h10.5M699.2,1591.8h-10.5M162.0,1763.6h10.5M699.2,1763.6h-10.5M162.0,1935.3h10.5M699.2,1935.3h-10.5" fill="none" stroke="#1a1a1a" stroke-width="4.0"/>
<rect x="162.0" y="1249.0" width="537.2" height="857.5" fill="none" stroke="#1a1a1a" stroke-width="4.0"/>
<text transform="translate(121.48,1260.30) scale(1.0619,1)" font-size="49.5">0</text>
<text transform="translate(122.63,1431.80) scale(0.9696,1)" font-size="49.5">4</text>
<text transform="translate(121.48,1603.10) scale(1.0619,1)" font-size="49.5">8</text>
<text transform="translate(96.06,1774.90) scale(1.0605,1)" font-size="49.5">12</text>
<text transform="translate(96.15,1946.60) scale(1.0364,1)" font-size="49.5">16</text>
<text transform="translate(98.32,2117.80) scale(0.9913,1)" font-size="49.5">20</text>
<text transform="translate(192.00,2155.00) rotate(-45) translate(-135.40,0) scale(1.1008,1)" font-size="45.5">1469.8</text>
<text transform="translate(321.50,2155.00) rotate(-45) translate(-135.33,0) scale(1.0826,1)" font-size="45.5">1470.4</text>
<text transform="translate(450.30,2155.00) rotate(-45) translate(-97.43,0) scale(1.1071,1)" font-size="45.5">1471</text>
<text transform="translate(579.10,2155.00) rotate(-45) translate(-135.37,0) scale(1.0917,1)" font-size="45.5">1471.6</text>
<text transform="translate(708.00,2155.00) rotate(-45) translate(-135.40,0) scale(1.1008,1)" font-size="45.5">1472.2</text>
<text transform="translate(66.70,1795.20) rotate(-90) translate(-2.13,0) scale(1.0626,1)" font-size="57.5">Depth(m)</text>
<text transform="translate(204.42,2318.00) scale(1.0458,1)" font-size="58.5">Sound Speed(m/s)</text>
<text transform="translate(378.58,2454.50) scale(1.1057,1)" font-size="77">(<tspan font-weight="bold">b</tspan>)</text>
<path d="M1321.5,1254.2V2123.5M1512.8,1254.2V2123.5M1704.1,1254.2V2123.5M1895.3,1254.2V2123.5M2086.6,1254.2V2123.5M1130.0,1388H2277.5M1130.0,1538.7H2277.5M1130.0,1689.8H2277.5M1130.0,1840.6H2277.5M1130.0,1991.3H2277.5" fill="none" stroke="#dcdcdc" stroke-width="1.8"/>
<path d="M1321.5,2123.5v-10.5M1321.5,1254.2v10.5M1512.8,2123.5v-10.5M1512.8,1254.2v10.5M1704.1,2123.5v-10.5M1704.1,1254.2v10.5M1895.3,2123.5v-10.5M1895.3,1254.2v10.5M2086.6,2123.5v-10.5M2086.6,1254.2v10.5M1130.0,1388h10.5M2277.5,1388h-10.5M1130.0,1538.7h10.5M2277.5,1538.7h-10.5M1130.0,1689.8h10.5M2277.5,1689.8h-10.5M1130.0,1840.6h10.5M2277.5,1840.6h-10.5M1130.0,1991.3h10.5M2277.5,1991.3h-10.5" fill="none" stroke="#1a1a1a" stroke-width="4.0"/>
<rect x="1130.0" y="1254.2" width="1147.5" height="869.3" fill="none" stroke="#1a1a1a" stroke-width="4.0"/>
<path d="M1127.0,1692H2250M1159.7,1689.8V1322.1M1151.2,1322.1h17M1135.9,1689.8V1399.6M1127.4,1399.6h17M1163.6,1689.8V1553.5M1155.1,1553.5h17M1190.2,1689.8V1531M1181.7,1531h17M1190.2,1689.8V1612.5M1181.7,1612.5h17M1218,1689.8V1517.6M1209.5,1517.6h17M1208.7,1689.8V1587M1200.2,1587h17M1204.1,1689.8V1637.9M1195.6,1637.9h17M1154.4,1689.8V1628.7M1145.9,1628.7h17M1267.7,1689.8V1583.6M1259.2,1583.6h17M1280,1689.8V1491.7M1271.5,1491.7h17M1294.3,1689.8V1549.5M1285.8,1549.5h17M1299,1689.8V1566.2M1290.5,1566.2h17M1289.7,1689.8V1563.9M1281.2,1563.9h17M1304.7,1689.8V1607.8M1296.2,1607.8h17M1315.2,1689.8V1591.6M1306.7,1591.6h17M1322.1,1689.8V1566.2M1313.6,1566.2h17M1329,1689.8V1538.4M1320.5,1538.4h17M1333.7,1689.8V1582.4M1325.2,1582.4h17M1361.4,1689.8V1583.6M1352.9,1583.6h17M1354.5,1689.8V1633.3M1346,1633.3h17M1384.6,1689.8V1621.7M1376.1,1621.7h17M1398.4,1689.8V1610.2M1389.9,1610.2h17M1400.8,1689.8V1619.4M1392.3,1619.4h17M1407.7,1689.8V1619.4M1399.2,1619.4h17M1493.3,1689.8V1621.7M1484.8,1621.7h17M1497.9,1689.8V1628.7M1489.4,1628.7h17M1470.2,1689.8V1651.8M1461.7,1651.8h17M1157.9,1689.8V1891.7M1149.4,1891.7h17M1160.4,1689.8V1918.3M1151.9,1918.3h17M1155.5,1689.8V1766.2M1147,1766.2h17M1172.4,1689.8V1877.3M1163.9,1877.3h17M1191.7,1689.8V1781.9M1183.2,1781.9h17M1205,1689.8V1867.6M1196.5,1867.6h17M1203.8,1689.8V1744.5M1195.3,1744.5h17M1215.9,1689.8V1833.8M1207.4,1833.8h17M1232.8,1689.8V1838.6M1224.3,1838.6h17M1254.5,1689.8V1814.5M1246,1814.5h17M1273.8,1689.8V1771M1265.3,1771h17M1288.3,1689.8V1819.3M1279.8,1819.3h17M1297.9,1689.8V1787.9M1289.4,1787.9h17M1312.4,1689.8V1763.8M1303.9,1763.8h17M1320.9,1689.8V1807.3M1312.4,1807.3h17M1331.7,1689.8V1820.5M1323.2,1820.5h17M1363.1,1689.8V1779.5M1354.6,1779.5h17M1358.3,1689.8V1761.4M1349.8,1761.4h17M1406.6,1689.8V1750.5M1398.1,1750.5h17M1436.8,1689.8V1803.6M1428.3,1803.6h17M1435.5,1689.8V1787.9M1427,1787.9h17M1450,1689.8V1744.5M1441.5,1744.5h17M1495.9,1689.8V1769.8M1487.4,1769.8h17M1493.3,1689.8V1624.1M1484.8,1624.1h17M1499.9,1689.8V1770.3M1491.4,1770.3h17M1510.1,1689.8V1800M1501.6,1800h17M1564.2,1689.8V1629.9M1555.7,1629.9h17M1533.2,1689.8V1737.1M1524.7,1737.1h17M1553.1,1689.8V1740.2M1544.6,1740.2h17M1570.8,1689.8V1745M1562.3,1745h17M1606.3,1689.8V1651.6M1597.8,1651.6h17M1631.5,1689.8V1720.7M1623,1720.7h17M1652.8,1689.8V1719.4M1644.3,1719.4h17M1669.6,1689.8V1658.7M1661.1,1658.7h17M1697.1,1689.8V1672.8M1688.6,1672.8h17M1721.4,1689.8V1675.1M1712.9,1675.1h17M1704.6,1689.8V1722.9M1696.1,1722.9h17M1761.3,1689.8V1672.8M1752.8,1672.8h17M1760,1689.8V1714M1751.5,1714h17M1830,1689.8V1664.9M1821.5,1664.9h17M1823.3,1689.8V1699.4M1814.8,1699.4h17M1858.8,1689.8V1684.8M1850.3,1684.8h17M1907.1,1689.8V1703M1898.6,1703h17M1932.8,1689.8V1697.2M1924.3,1697.2h17M2028,1689.8V1680.8M2019.5,1680.8h17M2249.5,1689.8V1683M2241,1683h17M1547.1,1689.8V1684.5M1538.6,1684.5h17M1325,1689.8V1710.8M1316.5,1710.8h17M1366.2,1689.8V1669.5M1357.7,1669.5h17M1512.9,1689.8V1688.5M1504.4,1688.5h17M1656.8,1689.8V1685.9M1648.3,1685.9h17M1466.4,1689.8V1710.9M1457.9,1710.9h17M1165.4,1689.8V1712.2M1156.9,1712.2h17M1487.9,1689.8V1678.6M1479.4,1678.6h17M1210.1,1689.8V1723.9M1201.6,1723.9h17M1558.2,1689.8V1679.7M1549.7,1679.7h17M1576.9,1689.8V1695.1M1568.4,1695.1h17M1546.9,1689.8V1694.5M1538.4,1694.5h17M1616.6,1689.8V1699.8M1608.1,1699.8h17M1411.2,1689.8V1694.6M1402.7,1694.6h17M1228.2,1689.8V1714.1M1219.7,1714.1h17M1419.2,1689.8V1726.4M1410.7,1726.4h17M1520.8,1689.8V1685.4M1512.3,1685.4h17M1637.9,1689.8V1696M1629.4,1696h17M1475.8,1689.8V1687.9M1467.3,1687.9h17M1280.7,1689.8V1678.6M1272.2,1678.6h17M1450,1689.8V1694.3M1441.5,1694.3h17M1629.9,1689.8V1699.1M1621.4,1699.1h17M1340.2,1689.8V1700.9M1331.7,1700.9h17M1652.6,1689.8V1688.5M1644.1,1688.5h17M1225.1,1689.8V1651.8M1216.6,1651.8h17M1442,1689.8V1701M1433.5,1701h17M1441.8,1689.8V1692.9M1433.3,1692.9h17M1662,1689.8V1666.7M1653.5,1666.7h17M1572.9,1689.8V1694.7M1564.4,1694.7h17M1576.6,1689.8V1693.4M1568.1,1693.4h17M1303.1,1689.8V1674.5M1294.6,1674.5h17M1448.5,1689.8V1696.7M1440,1696.7h17M1579.7,1689.8V1684M1571.2,1684h17M1194.8,1689.8V1640M1186.3,1640h17M1172.2,1689.8V1629.2M1163.7,1629.2h17M1635.1,1689.8V1666.1M1626.6,1666.1h17M1491.8,1689.8V1697.2M1483.3,1697.2h17M1532.2,1689.8V1672M1523.7,1672h17M1350.6,1689.8V1722M1342.1,1722h17M1164.2,1689.8V1739.5M1155.7,1739.5h17M1257.7,1689.8V1707M1249.2,1707h17M1353,1689.8V1687.5M1344.5,1687.5h17M1446.4,1689.8V1681.1M1437.9,1681.1h17M1290.4,1689.8V1660.6M1281.9,1660.6h17M1445.7,1689.8V1700.8M1437.2,1700.8h17M1175.2,1689.8V1630.5M1166.7,1630.5h17M1498.2,1689.8V1668.5M1489.7,1668.5h17M1462,1689.8V1659.9M1453.5,1659.9h17M1395.6,1689.8V1711.4M1387.1,1711.4h17M1507.5,1689.8V1679.9M1499,1679.9h17M1542.6,1689.8V1689.6M1534.1,1689.6h17M1663.3,1689.8V1702.1M1654.8,1702.1h17M1583.5,1689.8V1682.4M1575,1682.4h17M1377.3,1689.8V1705.5M1368.8,1705.5h17M1444.6,1689.8V1673.9M1436.1,1673.9h17M1423.7,1689.8V1701.2M1415.2,1701.2h17M1376.4,1689.8V1675.7M1367.9,1675.7h17M1183.8,1689.8V1712.4M1175.3,1712.4h17M1526.1,1689.8V1672.8M1517.6,1672.8h17M1460.7,1689.8V1704.1M1452.2,1704.1h17M1539.5,1689.8V1695.5M1531,1695.5h17M1191.5,1689.8V1634.6M1183,1634.6h17M1219.4,1689.8V1732.2M1210.9,1732.2h17M1358.3,1689.8V1681.8M1349.8,1681.8h17M1182.4,1689.8V1708.8M1173.9,1708.8h17M1277.9,1689.8V1722.9M1269.4,1722.9h17M1312.2,1689.8V1704.2M1303.7,1704.2h17M1190.8,1689.8V1670.2M1182.3,1670.2h17M1620.8,1689.8V1673.7M1612.3,1673.7h17M1597.9,1689.8V1693.4M1589.4,1693.4h17M1370.9,1689.8V1685M1362.4,1685h17M1536.8,1689.8V1698.2M1528.3,1698.2h17M1445.1,1689.8V1683.9M1436.6,1683.9h17M1560.1,1689.8V1693M1551.6,1693h17M1219.1,1689.8V1772.1M1210.6,1772.1h17M1156.2,1689.8V1720.1M1147.7,1720.1h17M1280.3,1689.8V1697.5M1271.8,1697.5h17M1187.9,1689.8V1652.2M1179.4,1652.2h17M1612.5,1689.8V1685.3M1604,1685.3h17M1337.8,1689.8V1710.4M1329.3,1710.4h17M1454.6,1689.8V1686.1M1446.1,1686.1h17M1614.3,1689.8V1689M1605.8,1689h17M1313,1689.8V1743.4M1304.5,1743.4h17M1654.4,1689.8V1689.6M1645.9,1689.6h17M1397,1689.8V1685.7M1388.5,1685.7h17M1626.6,1689.8V1680.9M1618.1,1680.9h17M1613.4,1689.8V1682.6M1604.9,1682.6h17M1336.6,1689.8V1649.4M1328.1,1649.4h17M1396.9,1689.8V1672.2M1388.4,1672.2h17M1663.7,1689.8V1670.5M1655.2,1670.5h17M1259,1689.8V1703.6M1250.5,1703.6h17M1604.9,1689.8V1695.3M1596.4,1695.3h17M1181.4,1689.8V1631.6M1172.9,1631.6h17M1315.6,1689.8V1665.5M1307.1,1665.5h17M1615.2,1689.8V1677.7M1606.7,1677.7h17M1224.7,1689.8V1732.5M1216.2,1732.5h17M1510.9,1689.8V1676.4M1502.4,1676.4h17M1196.2,1689.8V1707.4M1187.7,1707.4h17M1269.8,1689.8V1706.3M1261.3,1706.3h17M1256.1,1689.8V1643M1247.6,1643h17M1248.2,1689.8V1685.4M1239.7,1685.4h17M1559.2,1689.8V1671.9M1550.7,1671.9h17M1345.9,1689.8V1713.4M1337.4,1713.4h17M1456.8,1689.8V1716.6M1448.3,1716.6h17M1272.7,1689.8V1711M1264.2,1711h17M1496.2,1689.8V1660M1487.7,1660h17M1297.1,1689.8V1697.1M1288.6,1697.1h17M1657.4,1689.8V1693.4M1648.9,1693.4h17M1380.5,1689.8V1713M1372,1713h17M1179,1689.8V1699.9M1170.5,1699.9h17M1461.8,1689.8V1692.2M1453.3,1692.2h17M1565.7,1689.8V1680.9M1557.2,1680.9h17M1200.4,1689.8V1705.2M1191.9,1705.2h17M1281.3,1689.8V1643.4M1272.8,1643.4h17M1298.3,1689.8V1705.9M1289.8,1705.9h17M1613.5,1689.8V1691.9M1605,1691.9h17M1659.8,1689.8V1678.2M1651.3,1678.2h17M1538.8,1689.8V1686.9M1530.3,1686.9h17M1352.2,1689.8V1667.3M1343.7,1667.3h17M1247.7,1689.8V1706.5M1239.2,1706.5h17M1439.5,1689.8V1699M1431,1699h17M1491.7,1689.8V1700.2M1483.2,1700.2h17M1555.3,1689.8V1704.3M1546.8,1704.3h17M1587.2,1689.8V1691.3M1578.7,1691.3h17M1505,1689.8V1719.1M1496.5,1719.1h17M1244.6,1689.8V1700.4M1236.1,1700.4h17M1553.6,1689.8V1681.3M1545.1,1681.3h17M1276,1689.8V1655.6M1267.5,1655.6h17M1380.6,1689.8V1685M1372.1,1685h17M1559.5,1689.8V1711M1551,1711h17M1276.3,1689.8V1710.2M1267.8,1710.2h17M1451.8,1689.8V1689.1M1443.3,1689.1h17M1410.4,1689.8V1667M1401.9,1667h17M1520.5,1689.8V1685.9M1512,1685.9h17M1448,1689.8V1683M1439.5,1683h17M1233.4,1689.8V1705.8M1224.9,1705.8h17M1165,1689.8V1743.5M1156.5,1743.5h17M1381.2,1689.8V1689.3M1372.7,1689.3h17M1290,1689.8V1686.6M1281.5,1686.6h17M1618.8,1689.8V1693.9M1610.3,1693.9h17M1446.1,1689.8V1716.4M1437.6,1716.4h17M1277.3,1689.8V1703.5M1268.8,1703.5h17M1230.5,1689.8V1693.7M1222,1693.7h17M1316.3,1689.8V1683.2M1307.8,1683.2h17M1472.8,1689.8V1701.1M1464.3,1701.1h17M1456.2,1689.8V1691.7M1447.7,1691.7h17M1201,1689.8V1678.8M1192.5,1678.8h17M1285.9,1689.8V1705.2M1277.4,1705.2h17M1237.4,1689.8V1713.6M1228.9,1713.6h17M1557.2,1689.8V1711.3M1548.7,1711.3h17" fill="none" stroke="#0072b4" stroke-width="5.6"/>
<path d="M1120.0,1689.8H2250M1135.9,1689.8V1295.5M1127.4,1295.5h17M1129.6,1689.8V1450.5M1121.1,1450.5h17M1132.9,1689.8V1471.3M1124.4,1471.3h17M1139.3,1689.8V1455.2M1130.8,1455.2h17M1142.8,1689.8V1458.6M1134.3,1458.6h17M1145.8,1689.8V1494.5M1137.3,1494.5h17M1149.7,1689.8V1594M1141.2,1594h17M1167.1,1689.8V1575.5M1158.6,1575.5h17M1163.6,1689.8V1617.1M1155.1,1617.1h17M1190.2,1689.8V1551.2M1181.7,1551.2h17M1190.2,1689.8V1572M1181.7,1572h17M1226.1,1689.8V1506M1217.6,1506h17M1233,1689.8V1510.7M1224.5,1510.7h17M1236.5,1689.8V1526.9M1228,1526.9h17M1222.6,1689.8V1556.9M1214.1,1556.9h17M1229.6,1689.8V1556.9M1221.1,1556.9h17M1218,1689.8V1633.3M1209.5,1633.3h17M1252.7,1689.8V1610.2M1244.2,1610.2h17M1271.2,1689.8V1619.4M1262.7,1619.4h17M1282.8,1689.8V1610.2M1274.3,1610.2h17M1292,1689.8V1612.5M1283.5,1612.5h17M1308.2,1689.8V1644.9M1299.7,1644.9h17M1329,1689.8V1584.7M1320.5,1584.7h17M1340.6,1689.8V1599.7M1332.1,1599.7h17M1347.5,1689.8V1619.4M1339,1619.4h17M1360.3,1689.8V1554.6M1351.8,1554.6h17M1366,1689.8V1619.4M1357.5,1619.4h17M1384.6,1689.8V1640.2M1376.1,1640.2h17M1398.4,1689.8V1631M1389.9,1631h17M1412.3,1689.8V1628.7M1403.8,1628.7h17M1433.1,1689.8V1626.4M1424.6,1626.4h17M1458.6,1689.8V1619.4M1450.1,1619.4h17M1447,1689.8V1635.6M1438.5,1635.6h17M1485.2,1689.8V1523.4M1476.7,1523.4h17M1157.9,1689.8V1975M1149.4,1975h17M1157.9,1689.8V1929.2M1149.4,1929.2h17M1170,1689.8V1953.3M1161.5,1953.3h17M1170,1689.8V1804.8M1161.5,1804.8h17M1157.9,1689.8V1775.9M1149.4,1775.9h17M1174.8,1689.8V1872.4M1166.3,1872.4h17M1178.5,1689.8V1877.3M1170,1877.3h17M1182.1,1689.8V1901.4M1173.6,1901.4h17M1185.7,1689.8V1877.3M1177.2,1877.3h17M1207.4,1689.8V1860.4M1198.9,1860.4h17M1219.5,1689.8V2119.9M1211,2119.9h17M1220.7,1689.8V1886.9M1212.2,1886.9h17M1225.5,1689.8V1874.8M1217,1874.8h17M1231.6,1689.8V1949.2M1223.1,1949.2h17M1241.2,1689.8V1826.6M1232.7,1826.6h17M1254.5,1689.8V1954M1246,1954h17M1264.2,1689.8V1808.5M1255.7,1808.5h17M1266.6,1689.8V1779.5M1258.1,1779.5h17M1295.5,1689.8V1777.1M1287,1777.1h17M1342.6,1689.8V1807.7M1334.1,1807.7h17M1353.5,1689.8V1779.5M1345,1779.5h17M1324.5,1689.8V1749.3M1316,1749.3h17M1411.4,1689.8V1799.3M1402.9,1799.3h17M1406.6,1689.8V1739.7M1398.1,1739.7h17M1444,1689.8V1760.2M1435.5,1760.2h17M1469.3,1689.8V1751.7M1460.8,1751.7h17M1493.5,1689.8V1763.8M1485,1763.8h17M1213.5,1689.8V1756.6M1205,1756.6h17M1215.9,1689.8V1761.4M1207.4,1761.4h17M1223.1,1689.8V1756.6M1214.6,1756.6h17M1227.9,1689.8V1751.7M1219.4,1751.7h17M1235.2,1689.8V1756.6M1226.7,1756.6h17M1244.8,1689.8V1775.9M1236.3,1775.9h17M1249.7,1689.8V1773.5M1241.2,1773.5h17M1256.9,1689.8V1775.9M1248.4,1775.9h17M1261.7,1689.8V1773.5M1253.2,1773.5h17M1269,1689.8V1761.4M1260.5,1761.4h17M1278.6,1689.8V1746.9M1270.1,1746.9h17M1285.9,1689.8V1751.7M1277.4,1751.7h17M1305.2,1689.8V1739.7M1296.7,1739.7h17M1317.3,1689.8V1742.1M1308.8,1742.1h17M1331.7,1689.8V1732.4M1323.2,1732.4h17M1341.4,1689.8V1751.7M1332.9,1751.7h17M1348.6,1689.8V1756.6M1340.1,1756.6h17M1360.7,1689.8V1742.1M1352.2,1742.1h17M1368,1689.8V1737.2M1359.5,1737.2h17M1485.3,1689.8V1524.4M1476.8,1524.4h17M1495.5,1689.8V1762.8M1487,1762.8h17M1534.5,1689.8V1649.4M1526,1649.4h17M1562,1689.8V1643.2M1553.5,1643.2h17M1615.1,1689.8V1636.1M1606.6,1636.1h17M1646.1,1689.8V1656M1637.6,1656h17M1630.6,1689.8V1714.9M1622.1,1714.9h17M1686,1689.8V1648.5M1677.5,1648.5h17M1709.5,1689.8V1657.3M1701,1657.3h17M1694.9,1689.8V1711.4M1686.4,1711.4h17M1725,1689.8V1709.6M1716.5,1709.6h17M1755.6,1689.8V1710.5M1747.1,1710.5h17M1759.1,1689.8V1681.7M1750.6,1681.7h17M1814.5,1689.8V1664.9M1806,1664.9h17M1829.1,1689.8V1673.7M1820.6,1673.7h17M1823.3,1689.8V1700.7M1814.8,1700.7h17M1858.8,1689.8V1734.9M1850.3,1734.9h17M1907.1,1689.8V1678.6M1898.6,1678.6h17M1932.8,1689.8V1705.2M1924.3,1705.2h17M2028,1689.8V1714.9M2019.5,1714.9h17M2249.5,1689.8V1705.2M2241,1705.2h17M1201.2,1689.8V1707.3M1192.7,1707.3h17M1203.4,1689.8V1669.7M1194.9,1669.7h17M1204.3,1689.8V1707.9M1195.8,1707.9h17M1205.3,1689.8V1668.6M1196.8,1668.6h17M1207.4,1689.8V1711.4M1198.9,1711.4h17M1208.1,1689.8V1672.7M1199.6,1672.7h17M1209.6,1689.8V1711.8M1201.1,1711.8h17M1212,1689.8V1677.9M1203.5,1677.9h17M1213.9,1689.8V1714.7M1205.4,1714.7h17M1214.9,1689.8V1665.8M1206.4,1665.8h17M1215.7,1689.8V1699M1207.2,1699h17M1217.7,1689.8V1677.3M1209.2,1677.3h17M1218.7,1689.8V1702.9M1210.2,1702.9h17M1219.9,1689.8V1668.7M1211.4,1668.7h17M1222,1689.8V1713.2M1213.5,1713.2h17M1223.6,1689.8V1664.7M1215.1,1664.7h17M1225.1,1689.8V1710.4M1216.6,1710.4h17M1226.5,1689.8V1672.3M1218,1672.3h17M1228.8,1689.8V1716.3M1220.3,1716.3h17M1230.1,1689.8V1662.8M1221.6,1662.8h17M1230.8,1689.8V1703.2M1222.3,1703.2h17M1232.2,1689.8V1676.5M1223.7,1676.5h17M1234.4,1689.8V1706.3M1225.9,1706.3h17M1236,1689.8V1669.4M1227.5,1669.4h17M1237.7,1689.8V1714.4M1229.2,1714.4h17M1237.7,1689.8V1673.2M1229.2,1673.2h17M1240.6,1689.8V1707.8M1232.1,1707.8h17M1242.2,1689.8V1668.8M1233.7,1668.8h17M1242.3,1689.8V1710.8M1233.8,1710.8h17M1244.9,1689.8V1671.5M1236.4,1671.5h17M1245.3,1689.8V1705.6M1236.8,1705.6h17M1248.1,1689.8V1660.2M1239.6,1660.2h17M1248.3,1689.8V1704.1M1239.8,1704.1h17M1249.8,1689.8V1676.1M1241.3,1676.1h17M1252.3,1689.8V1703M1243.8,1703h17M1253.5,1689.8V1667M1245,1667h17M1254.4,1689.8V1713.4M1245.9,1713.4h17M1255.8,1689.8V1662.3M1247.3,1662.3h17M1257.3,1689.8V1707.7M1248.8,1707.7h17M1258.9,1689.8V1670.9M1250.4,1670.9h17M1261.5,1689.8V1714.8M1253,1714.8h17M1262,1689.8V1656.6M1253.5,1656.6h17M1263.3,1689.8V1707.2M1254.8,1707.2h17M1265.8,1689.8V1662.4M1257.3,1662.4h17M1266.2,1689.8V1718.2M1257.7,1718.2h17M1267.8,1689.8V1671.3M1259.3,1671.3h17M1270.1,1689.8V1705.9M1261.6,1705.9h17M1270.9,1689.8V1675.6M1262.4,1675.6h17M1272.1,1689.8V1710.5M1263.6,1710.5h17M1273.8,1689.8V1663.5M1265.3,1663.5h17M1275.5,1689.8V1708.1M1267,1708.1h17M1277.9,1689.8V1666.3M1269.4,1666.3h17M1278.8,1689.8V1715.6M1270.3,1715.6h17M1279.7,1689.8V1673.9M1271.2,1673.9h17M1282.2,1689.8V1714.7M1273.7,1714.7h17M1282.7,1689.8V1673.1M1274.2,1673.1h17M1285,1689.8V1716.8M1276.5,1716.8h17M1285.6,1689.8V1655.8M1277.1,1655.8h17M1288.2,1689.8V1710.6M1279.7,1710.6h17M1289,1689.8V1675.2M1280.5,1675.2h17M1289.9,1689.8V1717.1M1281.4,1717.1h17M1291.7,1689.8V1661.6M1283.2,1661.6h17M1293.2,1689.8V1714.5M1284.7,1714.5h17M1295.2,1689.8V1671M1286.7,1671h17M1296,1689.8V1712.6M1287.5,1712.6h17M1297.4,1689.8V1672.5M1288.9,1672.5h17M1299.6,1689.8V1714.9M1291.1,1714.9h17M1301.1,1689.8V1671.4M1292.6,1671.4h17M1303.1,1689.8V1703.2M1294.6,1703.2h17M1303.2,1689.8V1671.6M1294.7,1671.6h17M1305.4,1689.8V1700.5M1296.9,1700.5h17M1306.4,1689.8V1669.5M1297.9,1669.5h17M1308.5,1689.8V1701.8M1300,1701.8h17M1309.7,1689.8V1657.9M1301.2,1657.9h17M1312.1,1689.8V1711.1M1303.6,1711.1h17M1313.2,1689.8V1664.8M1304.7,1664.8h17M1313.8,1689.8V1700M1305.3,1700h17M1315.1,1689.8V1657.6M1306.6,1657.6h17M1317.6,1689.8V1716.4M1309.1,1716.4h17M1318.1,1689.8V1663.8M1309.6,1663.8h17M1320.3,1689.8V1712.3M1311.8,1712.3h17M1321.5,1689.8V1655.8M1313,1655.8h17M1322.7,1689.8V1709M1314.2,1709h17M1325.1,1689.8V1658.1M1316.6,1658.1h17M1326.6,1689.8V1711.7M1318.1,1711.7h17M1328.2,1689.8V1657.9M1319.7,1657.9h17M1329,1689.8V1711.3M1320.5,1711.3h17M1331.3,1689.8V1658.9M1322.8,1658.9h17M1332.1,1689.8V1713.1M1323.6,1713.1h17M1334.3,1689.8V1665.5M1325.8,1665.5h17M1335.4,1689.8V1705.9M1326.9,1705.9h17M1336.8,1689.8V1664.8M1328.3,1664.8h17M1337.5,1689.8V1710.3M1329,1710.3h17M1340.4,1689.8V1659M1331.9,1659h17M1341.5,1689.8V1705.9M1333,1705.9h17M1343,1689.8V1665.5M1334.5,1665.5h17M1344,1689.8V1713.6M1335.5,1713.6h17M1345,1689.8V1661.9M1336.5,1661.9h17M1346.4,1689.8V1709.5M1337.9,1709.5h17M1348.6,1689.8V1673.2M1340.1,1673.2h17M1350.4,1689.8V1707.6M1341.9,1707.6h17M1351.7,1689.8V1658.5M1343.2,1658.5h17M1352.7,1689.8V1699.2M1344.2,1699.2h17M1354.2,1689.8V1663.7M1345.7,1663.7h17M1355.6,1689.8V1701.9M1347.1,1701.9h17M1358.1,1689.8V1664.2M1349.6,1664.2h17M1358.9,1689.8V1714.2M1350.4,1714.2h17M1360.2,1689.8V1664.1M1351.7,1664.1h17M1361.5,1689.8V1706.3M1353,1706.3h17M1363.9,1689.8V1658.9M1355.4,1658.9h17M1365.5,1689.8V1705.5M1357,1705.5h17M1366.6,1689.8V1671.7M1358.1,1671.7h17M1367.4,1689.8V1707.3M1358.9,1707.3h17M1369.9,1689.8V1660.5M1361.4,1660.5h17M1371.2,1689.8V1714.9M1362.7,1714.9h17M1372.1,1689.8V1674.9M1363.6,1674.9h17M1373.8,1689.8V1703.5M1365.3,1703.5h17M1374.9,1689.8V1669.8M1366.4,1669.8h17M1377,1689.8V1707.1M1368.5,1707.1h17M1378.1,1689.8V1660.9M1369.6,1660.9h17M1380.6,1689.8V1706.4M1372.1,1706.4h17M1380.7,1689.8V1677.9M1372.2,1677.9h17M1383.4,1689.8V1699.5M1374.9,1699.5h17M1384.6,1689.8V1666.7M1376.1,1666.7h17M1385.5,1689.8V1711.9M1377,1711.9h17M1386.6,1689.8V1675.8M1378.1,1675.8h17M1388.7,1689.8V1699.1M1380.2,1699.1h17M1390.7,1689.8V1673.8M1382.2,1673.8h17M1391.2,1689.8V1699.4M1382.7,1699.4h17M1393.4,1689.8V1669.6M1384.9,1669.6h17M1394.9,1689.8V1709.3M1386.4,1709.3h17M1396.7,1689.8V1659.3M1388.2,1659.3h17M1398,1689.8V1701.8M1389.5,1701.8h17M1399.1,1689.8V1675.2M1390.6,1675.2h17M1399.9,1689.8V1706.2M1391.4,1706.2h17M1402.5,1689.8V1675.3M1394,1675.3h17M1403.3,1689.8V1704.1M1394.8,1704.1h17M1405.4,1689.8V1668.5M1396.9,1668.5h17M1406.8,1689.8V1710.6M1398.3,1710.6h17M1407.9,1689.8V1663.2M1399.4,1663.2h17M1410.2,1689.8V1699.8M1401.7,1699.8h17M1411.7,1689.8V1664.8M1403.2,1664.8h17M1412,1689.8V1705.6M1403.5,1705.6h17M1414.2,1689.8V1661.2M1405.7,1661.2h17M1415.4,1689.8V1707.3M1406.9,1707.3h17M1417.6,1689.8V1663.6M1409.1,1663.6h17M1419.2,1689.8V1705.5M1410.7,1705.5h17M1420.2,1689.8V1675.3M1411.7,1675.3h17M1421.8,1689.8V1711M1413.3,1711h17M1423.2,1689.8V1665.4M1414.7,1665.4h17M1424,1689.8V1712.2M1415.5,1712.2h17M1426.7,1689.8V1660.5M1418.2,1660.5h17M1427.5,1689.8V1710.3M1419,1710.3h17M1428.7,1689.8V1661.9M1420.2,1661.9h17M1431,1689.8V1703.4M1422.5,1703.4h17M1431.3,1689.8V1671M1422.8,1671h17M1433.5,1689.8V1709.8M1425,1709.8h17M1434.9,1689.8V1679M1426.4,1679h17M1436.8,1689.8V1698.9M1428.3,1698.9h17M1438.3,1689.8V1676.3M1429.8,1676.3h17M1439.1,1689.8V1709.8M1430.6,1709.8h17M1440.3,1689.8V1676.9M1431.8,1676.9h17M1442.3,1689.8V1708.8M1433.8,1708.8h17M1444.3,1689.8V1666.8M1435.8,1666.8h17M1446,1689.8V1705.2M1437.5,1705.2h17M1447.5,1689.8V1678.2M1439,1678.2h17M1447.9,1689.8V1705.6M1439.4,1705.6h17M1449.5,1689.8V1666.3M1441,1666.3h17M1451.5,1689.8V1705.5M1443,1705.5h17M1453.3,1689.8V1669.6M1444.8,1669.6h17M1453.9,1689.8V1703.3M1445.4,1703.3h17M1456.2,1689.8V1663.5M1447.7,1663.5h17M1456.8,1689.8V1710.1M1448.3,1710.1h17M1459.4,1689.8V1670.5M1450.9,1670.5h17M1460.3,1689.8V1700.5M1451.8,1700.5h17M1461.7,1689.8V1671M1453.2,1671h17M1463.3,1689.8V1698M1454.8,1698h17M1465.3,1689.8V1670.9M1456.8,1670.9h17M1466,1689.8V1709M1457.5,1709h17M1467.7,1689.8V1671.4M1459.2,1671.4h17M1469.4,1689.8V1698.4M1460.9,1698.4h17M1470.7,1689.8V1672.9M1462.2,1672.9h17M1472.8,1689.8V1710.5M1464.3,1710.5h17M1473.2,1689.8V1671.9M1464.7,1671.9h17M1474.5,1689.8V1703.5M1466,1703.5h17M1477,1689.8V1664.6M1468.5,1664.6h17M1478,1689.8V1701.8M1469.5,1701.8h17M1479.1,1689.8V1669.6M1470.6,1669.6h17M1481.6,1689.8V1699.1M1473.1,1699.1h17M1482.9,1689.8V1680.1M1474.4,1680.1h17M1483.5,1689.8V1700.4M1475,1700.4h17M1485.8,1689.8V1675M1477.3,1675h17M1486.7,1689.8V1705.7M1478.2,1705.7h17M1487.9,1689.8V1668M1479.4,1668h17M1489.4,1689.8V1704.1M1480.9,1704.1h17M1491.1,1689.8V1677.3M1482.6,1677.3h17M1493,1689.8V1703M1484.5,1703h17M1494.2,1689.8V1673.7M1485.7,1673.7h17M1495.9,1689.8V1699.2M1487.4,1699.2h17M1496.9,1689.8V1670.1M1488.4,1670.1h17M1499.1,1689.8V1704.1M1490.6,1704.1h17M1500.9,1689.8V1670.6M1492.4,1670.6h17M1502.4,1689.8V1700.1M1493.9,1700.1h17M1503.7,1689.8V1667.4M1495.2,1667.4h17M1505.4,1689.8V1701.1M1496.9,1701.1h17M1506,1689.8V1665.7M1497.5,1665.7h17M1507.4,1689.8V1710M1498.9,1710h17M1509.9,1689.8V1678.8M1501.4,1678.8h17M1510.4,1689.8V1706.3M1501.9,1706.3h17M1511.9,1689.8V1679.4M1503.4,1679.4h17M1514.2,1689.8V1702.2M1505.7,1702.2h17M1515.7,1689.8V1679.1M1507.2,1679.1h17M1516.6,1689.8V1705.5M1508.1,1705.5h17M1517.5,1689.8V1678M1509,1678h17M1520,1689.8V1708.2M1511.5,1708.2h17M1521.9,1689.8V1679.5M1513.4,1679.5h17M1522.7,1689.8V1706.1M1514.2,1706.1h17M1524.2,1689.8V1670.7M1515.7,1670.7h17M1525.2,1689.8V1697.4M1516.7,1697.4h17M1526.5,1689.8V1680.9M1518,1680.9h17M1528.7,1689.8V1702.8M1520.2,1702.8h17M1530.2,1689.8V1679.3M1521.7,1679.3h17M1531.1,1689.8V1698.8M1522.6,1698.8h17M1533.6,1689.8V1666.7M1525.1,1666.7h17M1535.2,1689.8V1697.4M1526.7,1697.4h17M1535.4,1689.8V1667.5M1526.9,1667.5h17M1537.5,1689.8V1705.3M1529,1705.3h17M1538.8,1689.8V1674.9M1530.3,1674.9h17M1540.5,1689.8V1701.2M1532,1701.2h17M1542.2,1689.8V1681.7M1533.7,1681.7h17M1543.8,1689.8V1705.9M1535.3,1705.9h17M1544.5,1689.8V1675.4M1536,1675.4h17M1546.8,1689.8V1700.6M1538.3,1700.6h17M1547.5,1689.8V1679.7M1539,1679.7h17M1549.5,1689.8V1696.1M1541,1696.1h17M1551.5,1689.8V1670.9M1543,1670.9h17M1552.7,1689.8V1705.5M1544.2,1705.5h17M1554.1,1689.8V1676.7M1545.6,1676.7h17M1555.6,1689.8V1701.4M1547.1,1701.4h17M1557.6,1689.8V1671.3M1549.1,1671.3h17M1558,1689.8V1705.7M1549.5,1705.7h17M1560.2,1689.8V1671.9M1551.7,1671.9h17M1561.8,1689.8V1700M1553.3,1700h17M1563.4,1689.8V1670.8M1554.9,1670.8h17M1564.6,1689.8V1703.8M1556.1,1703.8h17M1566.2,1689.8V1677.3M1557.7,1677.3h17M1567.6,1689.8V1696.2M1559.1,1696.2h17M1568.6,1689.8V1676.6M1560.1,1676.6h17M1569.6,1689.8V1699.2M1561.1,1699.2h17M1572,1689.8V1674.8M1563.5,1674.8h17M1572.9,1689.8V1705.1M1564.4,1705.1h17M1575,1689.8V1678.6M1566.5,1678.6h17M1576.5,1689.8V1701.1M1568,1701.1h17M1577.8,1689.8V1678.1M1569.3,1678.1h17M1580,1689.8V1701.6M1571.5,1701.6h17M1581,1689.8V1673.6M1572.5,1673.6h17M1582.9,1689.8V1695.3M1574.4,1695.3h17M1583.8,1689.8V1674.1M1575.3,1674.1h17M1584.8,1689.8V1699M1576.3,1699h17M1586,1689.8V1680.9M1577.5,1680.9h17M1588,1689.8V1695.9M1579.5,1695.9h17M1589.3,1689.8V1672.5M1580.8,1672.5h17M1591.2,1689.8V1699.7M1582.7,1699.7h17M1593.3,1689.8V1676.8M1584.8,1676.8h17M1594.8,1689.8V1700.8M1586.3,1700.8h17M1596,1689.8V1682.7M1587.5,1682.7h17M1597.2,1689.8V1701.8M1588.7,1701.8h17M1597.9,1689.8V1672.9M1589.4,1672.9h17M1599.5,1689.8V1699M1591,1699h17M1601,1689.8V1678.1M1592.5,1678.1h17M1603.2,1689.8V1695.1M1594.7,1695.1h17M1605.2,1689.8V1679.2M1596.7,1679.2h17M1606,1689.8V1699.8M1597.5,1699.8h17M1607.3,1689.8V1680.8M1598.8,1680.8h17M1609.2,1689.8V1699.3M1600.7,1699.3h17M1610.1,1689.8V1676.2M1601.6,1676.2h17M1611.6,1689.8V1694.5M1603.1,1694.5h17M1613.1,1689.8V1683.6M1604.6,1683.6h17M1614.4,1689.8V1700.7M1605.9,1700.7h17M1616.2,1689.8V1674.8M1607.7,1674.8h17M1618.3,1689.8V1694.7M1609.8,1694.7h17M1620.1,1689.8V1674.6M1611.6,1674.6h17M1620.2,1689.8V1701.6M1611.7,1701.6h17M1622.3,1689.8V1679.5M1613.8,1679.5h17M1624.6,1689.8V1696.1M1616.1,1696.1h17M1625.4,1689.8V1675.1M1616.9,1675.1h17M1627.2,1689.8V1697.7M1618.7,1697.7h17M1629,1689.8V1676.6M1620.5,1676.6h17M1630,1689.8V1694.9M1621.5,1694.9h17M1631.5,1689.8V1680.2M1623,1680.2h17M1632.3,1689.8V1694.3M1623.8,1694.3h17M1634.3,1689.8V1683.5M1625.8,1683.5h17M1635.7,1689.8V1698.8M1627.2,1698.8h17M1637.2,1689.8V1682.4M1628.7,1682.4h17M1638.8,1689.8V1696.8M1630.3,1696.8h17M1640.6,1689.8V1680.1M1632.1,1680.1h17M1642.4,1689.8V1700.4M1633.9,1700.4h17M1643.5,1689.8V1683M1635,1683h17M1644.1,1689.8V1699.8M1635.6,1699.8h17M1646.6,1689.8V1679.9M1638.1,1679.9h17M1647.4,1689.8V1695.2M1638.9,1695.2h17M1649.4,1689.8V1680.8M1640.9,1680.8h17M1650.8,1689.8V1697.4M1642.3,1697.4h17M1652.5,1689.8V1684.1M1644,1684.1h17M1653.2,1689.8V1699.3M1644.7,1699.3h17M1655.7,1689.8V1679.1M1647.2,1679.1h17M1655.9,1689.8V1693.4M1647.4,1693.4h17M1657.7,1689.8V1682.7M1649.2,1682.7h17M1659.7,1689.8V1693.5M1651.2,1693.5h17M1661.1,1689.8V1685.5M1652.6,1685.5h17M1661.9,1689.8V1696.5M1653.4,1696.5h17M1664.1,1689.8V1682M1655.6,1682h17M1665.3,1689.8V1695.1M1656.8,1695.1h17M1666.6,1689.8V1684.1M1658.1,1684.1h17M1668.8,1689.8V1696.6M1660.3,1696.6h17M1669.3,1689.8V1685.7M1660.8,1685.7h17M1671.9,1689.8V1695.3M1663.4,1695.3h17M1673.3,1689.8V1685.5M1664.8,1685.5h17M1674.3,1689.8V1693.4M1665.8,1693.4h17M1676.4,1689.8V1684.9M1667.9,1684.9h17M1677.6,1689.8V1696.3M1669.1,1696.3h17M1678.6,1689.8V1684.1M1670.1,1684.1h17M1680.8,1689.8V1695.6M1672.3,1695.6h17M1681.8,1689.8V1685.4M1673.3,1685.4h17M1682.8,1689.8V1695.2M1674.3,1695.2h17M1684.2,1689.8V1686.9M1675.7,1686.9h17M1686.4,1689.8V1693.4M1677.9,1693.4h17M1688.1,1689.8V1686.2M1679.6,1686.2h17M1689.7,1689.8V1691.8M1681.2,1691.8h17M1690.4,1689.8V1685M1681.9,1685h17M1197.6,1689.8V1706.6M1189.1,1706.6h17M1509.9,1689.8V1674.2M1501.4,1674.2h17M1300.2,1689.8V1678.3M1291.7,1678.3h17M1526.3,1689.8V1682.5M1517.8,1682.5h17M1342.8,1689.8V1670.5M1334.3,1670.5h17M1446.3,1689.8V1677.2M1437.8,1677.2h17M1624.5,1689.8V1672.1M1616,1672.1h17M1379.3,1689.8V1701.7M1370.8,1701.7h17M1565.6,1689.8V1692.5M1557.1,1692.5h17M1359.8,1689.8V1677M1351.3,1677h17M1632.7,1689.8V1684.7M1624.2,1684.7h17M1340.4,1689.8V1697.6M1331.9,1697.6h17M1342.4,1689.8V1700.7M1333.9,1700.7h17M1353.6,1689.8V1677.7M1345.1,1677.7h17M1255.4,1689.8V1729M1246.9,1729h17M1431.7,1689.8V1698.4M1423.2,1698.4h17M1582.6,1689.8V1695M1574.1,1695h17M1543.1,1689.8V1692.1M1534.6,1692.1h17M1605.3,1689.8V1690.2M1596.8,1690.2h17M1419,1689.8V1687.1M1410.5,1687.1h17M1433.5,1689.8V1719M1425,1719h17M1488.1,1689.8V1701.3M1479.6,1701.3h17M1566.2,1689.8V1679M1557.7,1679h17M1557.9,1689.8V1685.2M1549.4,1685.2h17M1198.8,1689.8V1645.2M1190.3,1645.2h17M1614.6,1689.8V1682.8M1606.1,1682.8h17M1199.1,1689.8V1701.4M1190.6,1701.4h17M1536.4,1689.8V1693.9M1527.9,1693.9h17M1487,1689.8V1689.6M1478.5,1689.6h17M1546.3,1689.8V1683M1537.8,1683h17M1422,1689.8V1688.6M1413.5,1688.6h17M1328.2,1689.8V1707.3M1319.7,1707.3h17M1649.9,1689.8V1694.4M1641.4,1694.4h17M1430,1689.8V1702.6M1421.5,1702.6h17M1523.7,1689.8V1695.6M1515.2,1695.6h17M1365.4,1689.8V1722.5M1356.9,1722.5h17M1577.4,1689.8V1698.8M1568.9,1698.8h17M1567,1689.8V1705.6M1558.5,1705.6h17M1581.3,1689.8V1672.3M1572.8,1672.3h17M1482.5,1689.8V1707.5M1474,1707.5h17M1423.1,1689.8V1695.5M1414.6,1695.5h17M1371,1689.8V1715.9M1362.5,1715.9h17M1370.4,1689.8V1674.8M1361.9,1674.8h17M1661.5,1689.8V1679M1653,1679h17M1347.5,1689.8V1684.4M1339,1684.4h17M1372.7,1689.8V1681.1M1364.2,1681.1h17M1304.9,1689.8V1683.2M1296.4,1683.2h17M1313.3,1689.8V1691M1304.8,1691h17M1214.5,1689.8V1719.8M1206,1719.8h17M1247.4,1689.8V1724.1M1238.9,1724.1h17M1187.7,1689.8V1732.3M1179.2,1732.3h17M1619.8,1689.8V1686.9M1611.3,1686.9h17M1174.5,1689.8V1672.2M1166,1672.2h17M1266.8,1689.8V1680.7M1258.3,1680.7h17M1276,1689.8V1695.8M1267.5,1695.8h17M1270.2,1689.8V1719.2M1261.7,1719.2h17M1250.3,1689.8V1692.7M1241.8,1692.7h17M1542.3,1689.8V1684M1533.8,1684h17M1314.9,1689.8V1722.3M1306.4,1722.3h17M1400.5,1689.8V1697.3M1392,1697.3h17M1288.8,1689.8V1655.2M1280.3,1655.2h17M1330.4,1689.8V1714.8M1321.9,1714.8h17M1435.1,1689.8V1676.2M1426.6,1676.2h17M1268.6,1689.8V1696.7M1260.1,1696.7h17M1181.3,1689.8V1631.5M1172.8,1631.5h17M1352.3,1689.8V1699.1M1343.8,1699.1h17M1425,1689.8V1699.9M1416.5,1699.9h17M1661.1,1689.8V1690.5M1652.6,1690.5h17M1491.3,1689.8V1689.7M1482.8,1689.7h17M1397,1689.8V1687.8M1388.5,1687.8h17M1345.5,1689.8V1682.3M1337,1682.3h17M1465.1,1689.8V1707M1456.6,1707h17M1236.1,1689.8V1677.1M1227.6,1677.1h17M1288.2,1689.8V1674.7M1279.7,1674.7h17M1599.3,1689.8V1702.4M1590.8,1702.4h17M1662.5,1689.8V1691M1654,1691h17M1291.9,1689.8V1701.1M1283.4,1701.1h17M1548.9,1689.8V1691M1540.4,1691h17M1156.6,1689.8V1657M1148.1,1657h17M1575.3,1689.8V1705.8M1566.8,1705.8h17M1198,1689.8V1696M1189.5,1696h17M1205.5,1689.8V1642.1M1197,1642.1h17M1400.8,1689.8V1721.9M1392.3,1721.9h17M1455.2,1689.8V1684.1M1446.7,1684.1h17M1593.3,1689.8V1695M1584.8,1695h17M1368.6,1689.8V1664.7M1360.1,1664.7h17M1623.6,1689.8V1676.2M1615.1,1676.2h17M1262.2,1689.8V1666.4M1253.7,1666.4h17M1433.1,1689.8V1696.9M1424.6,1696.9h17M1580.3,1689.8V1690.7M1571.8,1690.7h17M1314.8,1689.8V1692.5M1306.3,1692.5h17M1311.9,1689.8V1682.9M1303.4,1682.9h17M1394.3,1689.8V1692.6M1385.8,1692.6h17M1506.4,1689.8V1699.3M1497.9,1699.3h17M1209.9,1689.8V1715.8M1201.4,1715.8h17M1649.2,1689.8V1684M1640.7,1684h17M1579.2,1689.8V1690.6M1570.7,1690.6h17M1348.3,1689.8V1691.9M1339.8,1691.9h17M1518.1,1689.8V1688.8M1509.6,1688.8h17M1389.6,1689.8V1671.7M1381.1,1671.7h17M1161.2,1689.8V1621.6M1152.7,1621.6h17M1261.4,1689.8V1692M1252.9,1692h17M1470.2,1689.8V1692.5M1461.7,1692.5h17M1431.3,1689.8V1678.1M1422.8,1678.1h17M1308,1689.8V1699.7M1299.5,1699.7h17M1496,1689.8V1680.8M1487.5,1680.8h17M1286.7,1689.8V1679.4M1278.2,1679.4h17M1323.9,1689.8V1662.3M1315.4,1662.3h17M1638,1689.8V1702.4M1629.5,1702.4h17M1325.1,1689.8V1700.7M1316.6,1700.7h17M1577.7,1689.8V1685.6M1569.2,1685.6h17M1204.1,1689.8V1680.6M1195.6,1680.6h17M1501.6,1689.8V1691.5M1493.1,1691.5h17M1361.1,1689.8V1699.2M1352.6,1699.2h17M1582.8,1689.8V1693.1M1574.3,1693.1h17M1271.5,1689.8V1695.1M1263,1695.1h17M1236,1689.8V1670.8M1227.5,1670.8h17M1193,1689.8V1666.6M1184.5,1666.6h17M1625.5,1689.8V1699M1617,1699h17M1486.1,1689.8V1684.1M1477.6,1684.1h17" fill="none" stroke="#ec5210" stroke-width="5.6"/>
<text transform="translate(1051.91,1399.20) scale(1.0441,1)" font-size="49.5">0.7</text>
<text transform="translate(1027.22,1549.90) scale(1.0398,1)" font-size="49.5">0.35</text>
<text transform="translate(1090.30,1701.00) scale(1.1000,1)" font-size="49.5">0</text>
<text transform="translate(999.14,1851.80) scale(1.0306,1)" font-size="49.5">−0.35</text>
<text transform="translate(1022.38,2002.50) scale(1.0593,1)" font-size="49.5">−0.7</text>
<text transform="translate(1116.73,2185.60) scale(1.0619,1)" font-size="49.5">0</text>
<text transform="translate(1276.64,2185.60) scale(1.0313,1)" font-size="49.5">0.15</text>
<text transform="translate(1480.20,2185.60) scale(1.0517,1)" font-size="49.5">0.3</text>
<text transform="translate(1659.03,2185.60) scale(1.0361,1)" font-size="49.5">0.45</text>
<text transform="translate(1862.91,2185.60) scale(1.0448,1)" font-size="49.5">0.6</text>
<text transform="translate(2041.53,2185.60) scale(1.0361,1)" font-size="49.5">0.75</text>
<text transform="translate(2245.43,2185.60) scale(1.0345,1)" font-size="49.5">0.9</text>
<text transform="translate(979.70,1976.80) rotate(-90) translate(-2.11,0) scale(1.0564,1)" font-size="59.5">Normalized Amplitude</text>
<text transform="translate(1532.65,2259.70) scale(1.0247,1)" font-size="58.5">Delay Time(s)</text>
<text transform="translate(1604.33,2453.70) scale(1.0570,1)" font-size="77">(<tspan font-weight="bold">c</tspan>)</text>
<rect x="1971.3" y="1271.3" width="289.5" height="131.2" fill="#fff" stroke="#1a1a1a" stroke-width="4.2"/>
<path d="M1977.7,1305H2040.7" stroke="#0072b4" stroke-width="6.2" fill="none"/>
<path d="M1977.7,1368H2040.7" stroke="#ec5210" stroke-width="6.2" fill="none"/>
<text transform="translate(2045.51,1315.80) scale(0.9885,1)" font-size="48.5" fill="#000">Real</text>
<text transform="translate(2045.51,1378.80) scale(1.0426,1)" font-size="48.5" fill="#000">Imaginary</text>
</g>
</svg>
</body></html>
